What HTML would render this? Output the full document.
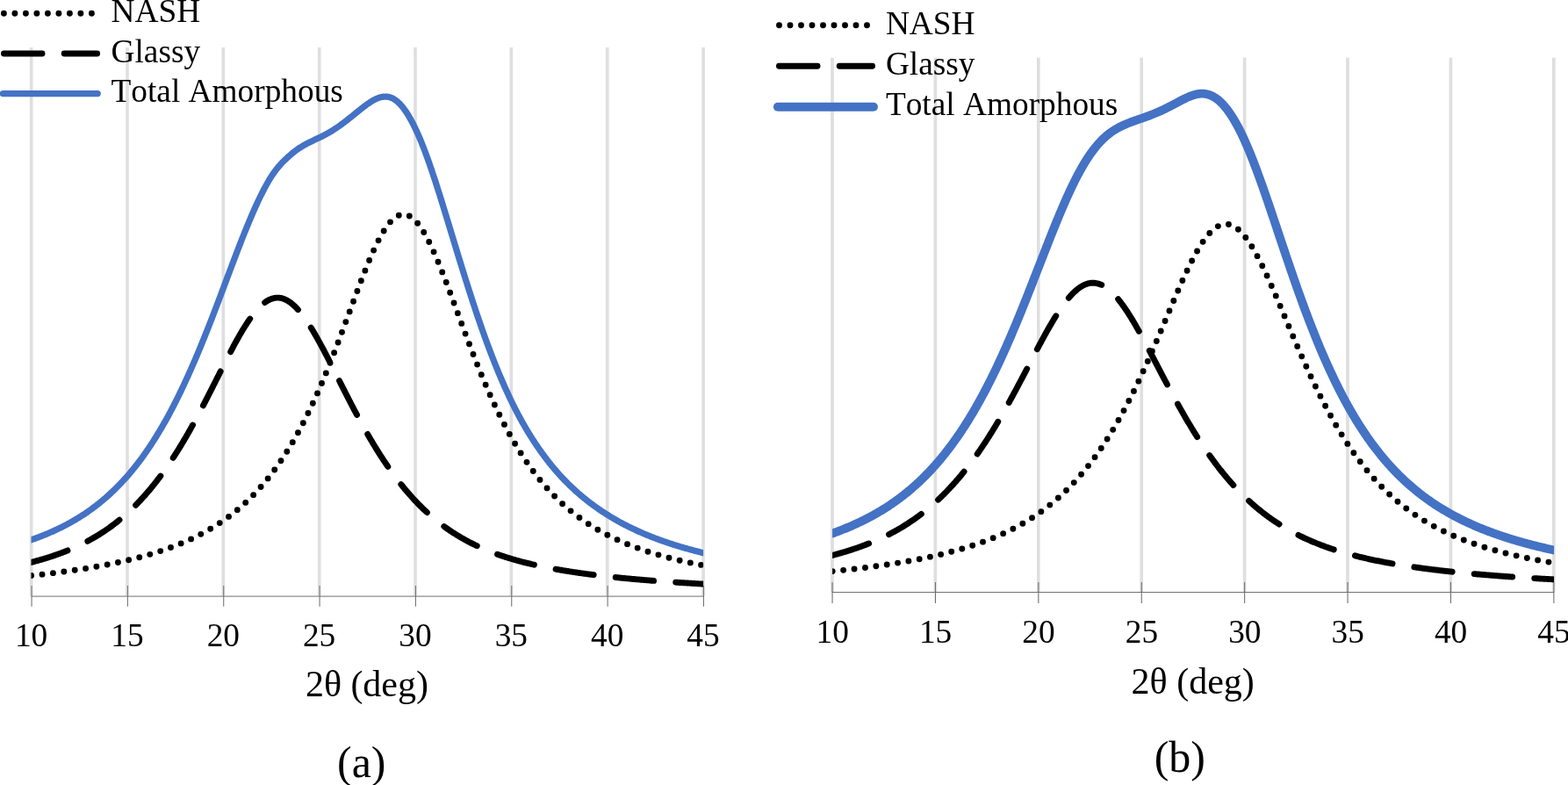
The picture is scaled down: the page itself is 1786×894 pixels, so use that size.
<!DOCTYPE html>
<html lang="en">
<head>
<meta charset="utf-8">
<title>XRD amorphous hump deconvolution</title>
<style>
html,body{margin:0;padding:0;background:#fff;}
body{width:1786px;height:894px;overflow:hidden;}
svg{display:block;}
text{font-family:"Liberation Serif",serif;fill:#000;font-kerning:none;font-variant-ligatures:none;}
.tk{font-size:37.33px;text-anchor:middle;}
.lg{font-size:37.33px;}
.ti{font-size:42px;}
.cp{font-size:50px;}
</style>
</head>
<body>
<svg width="1786" height="894" viewBox="0 0 1786 894">
<rect width="1786" height="894" fill="#fff"/>
<g id="chart-a">
<clipPath id="clip-a"><rect x="35.50" y="0" width="765.60" height="679.00"/></clipPath>
<path d="M35.65,54.00V678.50M144.99,54.00V678.50M254.34,54.00V678.50M363.68,54.00V678.50M473.02,54.00V678.50M582.36,54.00V678.50M691.71,54.00V678.50M801.05,54.00V678.50" stroke="#dfdfdf" stroke-width="3.7" fill="none"/>
<path d="M35.55,679.05H801.95" stroke="#8c8c8c" stroke-width="1.3" fill="none"/>
<path d="M36.05,667.00V690.70M145.39,667.00V690.70M254.74,667.00V690.70M364.08,667.00V690.70M473.42,667.00V690.70M582.76,667.00V690.70M692.11,667.00V690.70M801.45,667.00V690.70" stroke="#707070" stroke-width="1.05" fill="none"/>
<g clip-path="url(#clip-a)" fill="none" stroke-linecap="round" stroke-linejoin="round">
<path d="M35.60,655.48 L36.69,655.37 L37.79,655.25 L38.88,655.13 L39.97,655.02 L41.07,654.90 L42.16,654.78 L43.25,654.66 L44.35,654.54 L45.44,654.42 L46.53,654.30 L47.63,654.17 L48.72,654.05 L49.81,653.92 L50.91,653.80 L52.00,653.67 L53.09,653.54 L54.19,653.41 L55.28,653.28 L56.38,653.15 L57.47,653.02 L58.56,652.89 L59.66,652.75 L60.75,652.62 L61.84,652.48 L62.94,652.34 L64.03,652.21 L65.12,652.07 L66.22,651.93 L67.31,651.78 L68.40,651.64 L69.50,651.50 L70.59,651.35 L71.68,651.21 L72.78,651.06 L73.87,650.91 L74.96,650.76 L76.06,650.61 L77.15,650.46 L78.24,650.31 L79.34,650.16 L80.43,650.00 L81.52,649.85 L82.62,649.69 L83.71,649.53 L84.80,649.37 L85.90,649.21 L86.99,649.05 L88.08,648.88 L89.18,648.72 L90.27,648.55 L91.36,648.38 L92.46,648.21 L93.55,648.04 L94.65,647.87 L95.74,647.70 L96.83,647.52 L97.93,647.34 L99.02,647.17 L100.11,646.99 L101.21,646.81 L102.30,646.63 L103.39,646.44 L104.49,646.26 L105.58,646.07 L106.67,645.88 L107.77,645.69 L108.86,645.50 L109.95,645.31 L111.05,645.11 L112.14,644.91 L113.23,644.72 L114.33,644.52 L115.42,644.32 L116.51,644.11 L117.61,643.91 L118.70,643.70 L119.79,643.49 L120.89,643.28 L121.98,643.07 L123.07,642.85 L124.17,642.64 L125.26,642.42 L126.35,642.20 L127.45,641.98 L128.54,641.76 L129.63,641.53 L130.73,641.30 L131.82,641.07 L132.92,640.84 L134.01,640.61 L135.10,640.37 L136.20,640.13 L137.29,639.89 L138.38,639.65 L139.48,639.40 L140.57,639.16 L141.66,638.91 L142.76,638.66 L143.85,638.40 L144.94,638.15 L146.04,637.89 L147.13,637.63 L148.22,637.36 L149.32,637.10 L150.41,636.83 L151.50,636.56 L152.60,636.28 L153.69,636.01 L154.78,635.73 L155.88,635.45 L156.97,635.16 L158.06,634.88 L159.16,634.59 L160.25,634.29 L161.34,634.00 L162.44,633.70 L163.53,633.40 L164.62,633.09 L165.72,632.79 L166.81,632.48 L167.90,632.16 L169.00,631.85 L170.09,631.53 L171.19,631.20 L172.28,630.88 L173.37,630.55 L174.47,630.22 L175.56,629.88 L176.65,629.54 L177.75,629.20 L178.84,628.85 L179.93,628.50 L181.03,628.15 L182.12,627.79 L183.21,627.43 L184.31,627.07 L185.40,626.70 L186.49,626.33 L187.59,625.95 L188.68,625.57 L189.77,625.18 L190.87,624.80 L191.96,624.40 L193.05,624.01 L194.15,623.61 L195.24,623.20 L196.33,622.79 L197.43,622.38 L198.52,621.96 L199.61,621.54 L200.71,621.11 L201.80,620.68 L202.89,620.24 L203.99,619.80 L205.08,619.35 L206.17,618.90 L207.27,618.44 L208.36,617.98 L209.46,617.51 L210.55,617.04 L211.64,616.56 L212.74,616.08 L213.83,615.59 L214.92,615.10 L216.02,614.60 L217.11,614.10 L218.20,613.58 L219.30,613.07 L220.39,612.54 L221.48,612.02 L222.58,611.48 L223.67,610.94 L224.76,610.39 L225.86,609.84 L226.95,609.28 L228.04,608.71 L229.14,608.14 L230.23,607.56 L231.32,606.97 L232.42,606.38 L233.51,605.78 L234.60,605.17 L235.70,604.55 L236.79,603.93 L237.88,603.30 L238.98,602.66 L240.07,602.02 L241.16,601.37 L242.26,600.70 L243.35,600.04 L244.44,599.36 L245.54,598.67 L246.63,597.98 L247.73,597.28 L248.82,596.57 L249.91,595.85 L251.01,595.12 L252.10,594.38 L253.19,593.64 L254.29,592.88 L255.38,592.11 L256.47,591.34 L257.57,590.56 L258.66,589.76 L259.75,588.96 L260.85,588.15 L261.94,587.32 L263.03,586.49 L264.13,585.64 L265.22,584.79 L266.31,583.92 L267.41,583.05 L268.50,582.16 L269.59,581.26 L270.69,580.35 L271.78,579.43 L272.87,578.50 L273.97,577.55 L275.06,576.59 L276.15,575.62 L277.25,574.64 L278.34,573.65 L279.43,572.64 L280.53,571.62 L281.62,570.59 L282.71,569.55 L283.81,568.49 L284.90,567.42 L286.00,566.33 L287.09,565.23 L288.18,564.12 L289.28,562.99 L290.37,561.85 L291.46,560.69 L292.56,559.52 L293.65,558.34 L294.74,557.14 L295.84,555.92 L296.93,554.69 L298.02,553.44 L299.12,552.18 L300.21,550.90 L301.30,549.60 L302.40,548.29 L303.49,546.96 L304.58,545.62 L305.68,544.26 L306.77,542.88 L307.86,541.48 L308.96,540.07 L310.05,538.63 L311.14,537.18 L312.24,535.72 L313.33,534.23 L314.42,532.72 L315.52,531.20 L316.61,529.66 L317.70,528.10 L318.80,526.52 L319.89,524.91 L320.98,523.29 L322.08,521.65 L323.17,519.99 L324.27,518.31 L325.36,516.61 L326.45,514.89 L327.55,513.15 L328.64,511.38 L329.73,509.60 L330.83,507.79 L331.92,505.97 L333.01,504.12 L334.11,502.25 L335.20,500.35 L336.29,498.44 L337.39,496.50 L338.48,494.54 L339.57,492.56 L340.67,490.55 L341.76,488.53 L342.85,486.48 L343.95,484.40 L345.04,482.31 L346.13,480.19 L347.23,478.04 L348.32,475.88 L349.41,473.69 L350.51,471.48 L351.60,469.24 L352.69,466.98 L353.79,464.70 L354.88,462.39 L355.97,460.06 L357.07,457.71 L358.16,455.33 L359.25,452.93 L360.35,450.51 L361.44,448.06 L362.54,445.59 L363.63,443.10 L364.72,440.59 L365.82,438.05 L366.91,435.49 L368.00,432.91 L369.10,430.31 L370.19,427.69 L371.28,425.04 L372.38,422.38 L373.47,419.69 L374.56,416.99 L375.66,414.27 L376.75,411.52 L377.84,408.76 L378.94,405.98 L380.03,403.18 L381.12,400.37 L382.22,397.54 L383.31,394.70 L384.40,391.84 L385.50,388.97 L386.59,386.08 L387.68,383.18 L388.78,380.27 L389.87,377.35 L390.96,374.43 L392.06,371.49 L393.15,368.54 L394.24,365.60 L395.34,362.64 L396.43,359.68 L397.52,356.72 L398.62,353.76 L399.71,350.80 L400.81,347.84 L401.90,344.89 L402.99,341.94 L404.09,339.00 L405.18,336.06 L406.27,333.14 L407.37,330.22 L408.46,327.33 L409.55,324.44 L410.65,321.57 L411.74,318.73 L412.83,315.90 L413.93,313.10 L415.02,310.32 L416.11,307.57 L417.21,304.85 L418.30,302.16 L419.39,299.50 L420.49,296.88 L421.58,294.30 L422.67,291.75 L423.77,289.25 L424.86,286.80 L425.95,284.39 L427.05,282.03 L428.14,279.73 L429.23,277.47 L430.33,275.28 L431.42,273.14 L432.51,271.06 L433.61,269.05 L434.70,267.10 L435.79,265.21 L436.89,263.40 L437.98,261.66 L439.08,259.99 L440.17,258.39 L441.26,256.87 L442.36,255.43 L443.45,254.07 L444.54,252.80 L445.64,251.60 L446.73,250.49 L447.82,249.47 L448.92,248.54 L450.01,247.69 L451.10,246.93 L452.20,246.27 L453.29,245.69 L454.38,245.21 L455.48,244.82 L456.57,244.53 L457.66,244.33 L458.76,244.22 L459.85,244.21 L460.94,244.29 L462.04,244.46 L463.13,244.73 L464.22,245.10 L465.32,245.55 L466.41,246.10 L467.50,246.74 L468.60,247.47 L469.69,248.29 L470.78,249.20 L471.88,250.20 L472.97,251.28 L474.06,252.45 L475.16,253.71 L476.25,255.04 L477.35,256.46 L478.44,257.96 L479.53,259.53 L480.63,261.18 L481.72,262.90 L482.81,264.70 L483.91,266.56 L485.00,268.49 L486.09,270.49 L487.19,272.55 L488.28,274.67 L489.37,276.85 L490.47,279.09 L491.56,281.38 L492.65,283.73 L493.75,286.12 L494.84,288.56 L495.93,291.05 L497.03,293.58 L498.12,296.15 L499.21,298.76 L500.31,301.41 L501.40,304.09 L502.49,306.80 L503.59,309.55 L504.68,312.32 L505.77,315.11 L506.87,317.93 L507.96,320.78 L509.05,323.64 L510.15,326.52 L511.24,329.41 L512.33,332.32 L513.43,335.24 L514.52,338.17 L515.62,341.12 L516.71,344.06 L517.80,347.02 L518.90,349.97 L519.99,352.93 L521.08,355.89 L522.18,358.85 L523.27,361.81 L524.36,364.77 L525.46,367.72 L526.55,370.66 L527.64,373.60 L528.74,376.53 L529.83,379.46 L530.92,382.37 L532.02,385.27 L533.11,388.16 L534.20,391.04 L535.30,393.90 L536.39,396.75 L537.48,399.58 L538.58,402.40 L539.67,405.20 L540.76,407.98 L541.86,410.75 L542.95,413.50 L544.04,416.23 L545.14,418.94 L546.23,421.63 L547.32,424.30 L548.42,426.95 L549.51,429.58 L550.60,432.19 L551.70,434.77 L552.79,437.34 L553.89,439.88 L554.98,442.40 L556.07,444.90 L557.17,447.37 L558.26,449.83 L559.35,452.25 L560.45,454.66 L561.54,457.04 L562.63,459.40 L563.73,461.74 L564.82,464.05 L565.91,466.34 L567.01,468.61 L568.10,470.85 L569.19,473.07 L570.29,475.27 L571.38,477.44 L572.47,479.59 L573.57,481.72 L574.66,483.82 L575.75,485.90 L576.85,487.96 L577.94,489.99 L579.03,492.00 L580.13,493.99 L581.22,495.95 L582.31,497.90 L583.41,499.82 L584.50,501.72 L585.59,503.60 L586.69,505.45 L587.78,507.28 L588.87,509.10 L589.97,510.89 L591.06,512.66 L592.16,514.40 L593.25,516.13 L594.34,517.84 L595.44,519.53 L596.53,521.19 L597.62,522.84 L598.72,524.46 L599.81,526.07 L600.90,527.66 L602.00,529.22 L603.09,530.77 L604.18,532.30 L605.28,533.81 L606.37,535.30 L607.46,536.78 L608.56,538.23 L609.65,539.67 L610.74,541.09 L611.84,542.49 L612.93,543.87 L614.02,545.24 L615.12,546.59 L616.21,547.92 L617.30,549.24 L618.40,550.54 L619.49,551.82 L620.58,553.09 L621.68,554.34 L622.77,555.58 L623.86,556.80 L624.96,558.00 L626.05,559.19 L627.14,560.37 L628.24,561.53 L629.33,562.67 L630.43,563.80 L631.52,564.92 L632.61,566.03 L633.71,567.11 L634.80,568.19 L635.89,569.25 L636.99,570.30 L638.08,571.34 L639.17,572.36 L640.27,573.37 L641.36,574.37 L642.45,575.35 L643.55,576.32 L644.64,577.28 L645.73,578.23 L646.83,579.17 L647.92,580.09 L649.01,581.01 L650.11,581.91 L651.20,582.80 L652.29,583.68 L653.39,584.55 L654.48,585.41 L655.57,586.25 L656.67,587.09 L657.76,587.92 L658.85,588.73 L659.95,589.54 L661.04,590.34 L662.13,591.12 L663.23,591.90 L664.32,592.67 L665.41,593.42 L666.51,594.17 L667.60,594.91 L668.70,595.64 L669.79,596.37 L670.88,597.08 L671.98,597.78 L673.07,598.48 L674.16,599.17 L675.26,599.85 L676.35,600.52 L677.44,601.18 L678.54,601.84 L679.63,602.48 L680.72,603.12 L681.82,603.76 L682.91,604.38 L684.00,605.00 L685.10,605.61 L686.19,606.21 L687.28,606.81 L688.38,607.40 L689.47,607.98 L690.56,608.55 L691.66,609.12 L692.75,609.68 L693.84,610.24 L694.94,610.79 L696.03,611.33 L697.12,611.87 L698.22,612.40 L699.31,612.92 L700.40,613.44 L701.50,613.95 L702.59,614.46 L703.68,614.96 L704.78,615.46 L705.87,615.95 L706.97,616.43 L708.06,616.91 L709.15,617.38 L710.25,617.85 L711.34,618.31 L712.43,618.77 L713.53,619.23 L714.62,619.67 L715.71,620.12 L716.81,620.55 L717.90,620.99 L718.99,621.42 L720.09,621.84 L721.18,622.26 L722.27,622.68 L723.37,623.09 L724.46,623.49 L725.55,623.90 L726.65,624.29 L727.74,624.69 L728.83,625.08 L729.93,625.46 L731.02,625.84 L732.11,626.22 L733.21,626.59 L734.30,626.96 L735.39,627.33 L736.49,627.69 L737.58,628.05 L738.67,628.40 L739.77,628.75 L740.86,629.10 L741.95,629.45 L743.05,629.79 L744.14,630.12 L745.24,630.46 L746.33,630.79 L747.42,631.11 L748.52,631.44 L749.61,631.76 L750.70,632.08 L751.80,632.39 L752.89,632.70 L753.98,633.01 L755.08,633.31 L756.17,633.62 L757.26,633.91 L758.36,634.21 L759.45,634.50 L760.54,634.79 L761.64,635.08 L762.73,635.37 L763.82,635.65 L764.92,635.93 L766.01,636.21 L767.10,636.48 L768.20,636.75 L769.29,637.02 L770.38,637.29 L771.48,637.55 L772.57,637.81 L773.66,638.07 L774.76,638.33 L775.85,638.59 L776.94,638.84 L778.04,639.09 L779.13,639.34 L780.22,639.58 L781.32,639.82 L782.41,640.06 L783.51,640.30 L784.60,640.54 L785.69,640.77 L786.79,641.01 L787.88,641.24 L788.97,641.47 L790.07,641.69 L791.16,641.92 L792.25,642.14 L793.35,642.36 L794.44,642.58 L795.53,642.79 L796.63,643.01 L797.72,643.22 L798.81,643.43 L799.91,643.64 L801.00,643.85" stroke="#000" stroke-width="6.9" stroke-dasharray="0 12.5"/>
<path d="M35.60,640.39 L36.69,640.11 L37.79,639.82 L38.88,639.54 L39.97,639.24 L41.07,638.95 L42.16,638.65 L43.25,638.35 L44.35,638.04 L45.44,637.73 L46.53,637.42 L47.63,637.10 L48.72,636.78 L49.81,636.46 L50.91,636.13 L52.00,635.79 L53.09,635.46 L54.19,635.12 L55.28,634.77 L56.38,634.42 L57.47,634.07 L58.56,633.71 L59.66,633.35 L60.75,632.98 L61.84,632.61 L62.94,632.23 L64.03,631.85 L65.12,631.47 L66.22,631.08 L67.31,630.68 L68.40,630.28 L69.50,629.88 L70.59,629.47 L71.68,629.05 L72.78,628.63 L73.87,628.20 L74.96,627.77 L76.06,627.34 L77.15,626.89 L78.24,626.44 L79.34,625.99 L80.43,625.53 L81.52,625.06 L82.62,624.59 L83.71,624.11 L84.80,623.63 L85.90,623.14 L86.99,622.64 L88.08,622.14 L89.18,621.62 L90.27,621.11 L91.36,620.58 L92.46,620.05 L93.55,619.52 L94.65,618.97 L95.74,618.42 L96.83,617.86 L97.93,617.29 L99.02,616.72 L100.11,616.14 L101.21,615.55 L102.30,614.95 L103.39,614.35 L104.49,613.74 L105.58,613.12 L106.67,612.49 L107.77,611.85 L108.86,611.20 L109.95,610.55 L111.05,609.89 L112.14,609.22 L113.23,608.54 L114.33,607.85 L115.42,607.15 L116.51,606.44 L117.61,605.73 L118.70,605.00 L119.79,604.27 L120.89,603.52 L121.98,602.77 L123.07,602.00 L124.17,601.23 L125.26,600.45 L126.35,599.65 L127.45,598.85 L128.54,598.03 L129.63,597.21 L130.73,596.37 L131.82,595.53 L132.92,594.67 L134.01,593.80 L135.10,592.92 L136.20,592.03 L137.29,591.13 L138.38,590.21 L139.48,589.29 L140.57,588.35 L141.66,587.41 L142.76,586.45 L143.85,585.47 L144.94,584.49 L146.04,583.49 L147.13,582.48 L148.22,581.46 L149.32,580.43 L150.41,579.38 L151.50,578.32 L152.60,577.25 L153.69,576.17 L154.78,575.07 L155.88,573.96 L156.97,572.83 L158.06,571.69 L159.16,570.54 L160.25,569.38 L161.34,568.20 L162.44,567.00 L163.53,565.80 L164.62,564.58 L165.72,563.34 L166.81,562.09 L167.90,560.83 L169.00,559.55 L170.09,558.26 L171.19,556.95 L172.28,555.63 L173.37,554.29 L174.47,552.94 L175.56,551.58 L176.65,550.20 L177.75,548.80 L178.84,547.39 L179.93,545.96 L181.03,544.52 L182.12,543.07 L183.21,541.59 L184.31,540.11 L185.40,538.60 L186.49,537.09 L187.59,535.55 L188.68,534.00 L189.77,532.44 L190.87,530.86 L191.96,529.26 L193.05,527.65 L194.15,526.02 L195.24,524.38 L196.33,522.72 L197.43,521.05 L198.52,519.36 L199.61,517.66 L200.71,515.94 L201.80,514.20 L202.89,512.45 L203.99,510.69 L205.08,508.91 L206.17,507.11 L207.27,505.30 L208.36,503.48 L209.46,501.63 L210.55,499.78 L211.64,497.91 L212.74,496.03 L213.83,494.13 L214.92,492.22 L216.02,490.29 L217.11,488.35 L218.20,486.40 L219.30,484.43 L220.39,482.45 L221.48,480.46 L222.58,478.46 L223.67,476.44 L224.76,474.42 L225.86,472.38 L226.95,470.33 L228.04,468.27 L229.14,466.19 L230.23,464.11 L231.32,462.02 L232.42,459.92 L233.51,457.81 L234.60,455.70 L235.70,453.57 L236.79,451.44 L237.88,449.30 L238.98,447.16 L240.07,445.01 L241.16,442.85 L242.26,440.69 L243.35,438.53 L244.44,436.36 L245.54,434.20 L246.63,432.03 L247.73,429.86 L248.82,427.69 L249.91,425.52 L251.01,423.35 L252.10,421.19 L253.19,419.03 L254.29,416.87 L255.38,414.72 L256.47,412.58 L257.57,410.44 L258.66,408.31 L259.75,406.19 L260.85,404.09 L261.94,401.99 L263.03,399.91 L264.13,397.84 L265.22,395.78 L266.31,393.74 L267.41,391.72 L268.50,389.72 L269.59,387.74 L270.69,385.78 L271.78,383.84 L272.87,381.92 L273.97,380.03 L275.06,378.17 L276.15,376.34 L277.25,374.53 L278.34,372.75 L279.43,371.01 L280.53,369.30 L281.62,367.62 L282.71,365.98 L283.81,364.37 L284.90,362.81 L286.00,361.28 L287.09,359.79 L288.18,358.35 L289.28,356.95 L290.37,355.59 L291.46,354.29 L292.56,353.02 L293.65,351.81 L294.74,350.64 L295.84,349.53 L296.93,348.47 L298.02,347.46 L299.12,346.50 L300.21,345.60 L301.30,344.75 L302.40,343.96 L303.49,343.23 L304.58,342.56 L305.68,341.94 L306.77,341.38 L307.86,340.89 L308.96,340.45 L310.05,340.07 L311.14,339.76 L312.24,339.50 L313.33,339.31 L314.42,339.18 L315.52,339.11 L316.61,339.10 L317.70,339.16 L318.80,339.28 L319.89,339.46 L320.98,339.70 L322.08,340.00 L323.17,340.37 L324.27,340.79 L325.36,341.28 L326.45,341.82 L327.55,342.43 L328.64,343.09 L329.73,343.81 L330.83,344.59 L331.92,345.43 L333.01,346.32 L334.11,347.26 L335.20,348.26 L336.29,349.31 L337.39,350.42 L338.48,351.57 L339.57,352.78 L340.67,354.03 L341.76,355.33 L342.85,356.68 L343.95,358.07 L345.04,359.50 L346.13,360.98 L347.23,362.50 L348.32,364.06 L349.41,365.65 L350.51,367.29 L351.60,368.96 L352.69,370.66 L353.79,372.40 L354.88,374.17 L355.97,375.97 L357.07,377.80 L358.16,379.66 L359.25,381.54 L360.35,383.45 L361.44,385.39 L362.54,387.34 L363.63,389.32 L364.72,391.32 L365.82,393.34 L366.91,395.37 L368.00,397.42 L369.10,399.49 L370.19,401.57 L371.28,403.67 L372.38,405.77 L373.47,407.89 L374.56,410.02 L375.66,412.15 L376.75,414.29 L377.84,416.44 L378.94,418.60 L380.03,420.76 L381.12,422.92 L382.22,425.09 L383.31,427.25 L384.40,429.42 L385.50,431.59 L386.59,433.76 L387.68,435.93 L388.78,438.10 L389.87,440.26 L390.96,442.42 L392.06,444.58 L393.15,446.73 L394.24,448.87 L395.34,451.01 L396.43,453.14 L397.52,455.27 L398.62,457.39 L399.71,459.50 L400.81,461.60 L401.90,463.69 L402.99,465.78 L404.09,467.85 L405.18,469.91 L406.27,471.97 L407.37,474.01 L408.46,476.04 L409.55,478.06 L410.65,480.06 L411.74,482.06 L412.83,484.04 L413.93,486.01 L415.02,487.96 L416.11,489.90 L417.21,491.83 L418.30,493.75 L419.39,495.65 L420.49,497.53 L421.58,499.41 L422.67,501.26 L423.77,503.11 L424.86,504.94 L425.95,506.75 L427.05,508.55 L428.14,510.33 L429.23,512.10 L430.33,513.85 L431.42,515.59 L432.51,517.32 L433.61,519.02 L434.70,520.71 L435.79,522.39 L436.89,524.05 L437.98,525.70 L439.08,527.33 L440.17,528.94 L441.26,530.54 L442.36,532.12 L443.45,533.69 L444.54,535.24 L445.64,536.78 L446.73,538.30 L447.82,539.81 L448.92,541.30 L450.01,542.77 L451.10,544.23 L452.20,545.68 L453.29,547.11 L454.38,548.52 L455.48,549.92 L456.57,551.30 L457.66,552.67 L458.76,554.03 L459.85,555.36 L460.94,556.69 L462.04,558.00 L463.13,559.29 L464.22,560.58 L465.32,561.84 L466.41,563.09 L467.50,564.33 L468.60,565.55 L469.69,566.76 L470.78,567.96 L471.88,569.14 L472.97,570.31 L474.06,571.46 L475.16,572.61 L476.25,573.73 L477.35,574.85 L478.44,575.95 L479.53,577.04 L480.63,578.11 L481.72,579.17 L482.81,580.22 L483.91,581.26 L485.00,582.28 L486.09,583.29 L487.19,584.29 L488.28,585.28 L489.37,586.25 L490.47,587.21 L491.56,588.16 L492.65,589.10 L493.75,590.03 L494.84,590.95 L495.93,591.85 L497.03,592.74 L498.12,593.62 L499.21,594.50 L500.31,595.36 L501.40,596.20 L502.49,597.04 L503.59,597.87 L504.68,598.69 L505.77,599.49 L506.87,600.29 L507.96,601.07 L509.05,601.85 L510.15,602.62 L511.24,603.37 L512.33,604.12 L513.43,604.86 L514.52,605.58 L515.62,606.30 L516.71,607.01 L517.80,607.71 L518.90,608.40 L519.99,609.08 L521.08,609.75 L522.18,610.42 L523.27,611.07 L524.36,611.72 L525.46,612.36 L526.55,612.99 L527.64,613.61 L528.74,614.23 L529.83,614.83 L530.92,615.43 L532.02,616.02 L533.11,616.60 L534.20,617.18 L535.30,617.75 L536.39,618.31 L537.48,618.86 L538.58,619.41 L539.67,619.95 L540.76,620.48 L541.86,621.00 L542.95,621.52 L544.04,622.03 L545.14,622.54 L546.23,623.04 L547.32,623.53 L548.42,624.02 L549.51,624.50 L550.60,624.97 L551.70,625.44 L552.79,625.90 L553.89,626.35 L554.98,626.80 L556.07,627.25 L557.17,627.69 L558.26,628.12 L559.35,628.55 L560.45,628.97 L561.54,629.38 L562.63,629.80 L563.73,630.20 L564.82,630.60 L565.91,631.00 L567.01,631.39 L568.10,631.78 L569.19,632.16 L570.29,632.54 L571.38,632.91 L572.47,633.28 L573.57,633.64 L574.66,634.00 L575.75,634.35 L576.85,634.70 L577.94,635.05 L579.03,635.39 L580.13,635.73 L581.22,636.06 L582.31,636.39 L583.41,636.72 L584.50,637.04 L585.59,637.36 L586.69,637.67 L587.78,637.98 L588.87,638.29 L589.97,638.59 L591.06,638.89 L592.16,639.19 L593.25,639.48 L594.34,639.77 L595.44,640.05 L596.53,640.34 L597.62,640.62 L598.72,640.89 L599.81,641.17 L600.90,641.44 L602.00,641.70 L603.09,641.97 L604.18,642.23 L605.28,642.49 L606.37,642.74 L607.46,642.99 L608.56,643.24 L609.65,643.49 L610.74,643.73 L611.84,643.98 L612.93,644.22 L614.02,644.45 L615.12,644.69 L616.21,644.92 L617.30,645.15 L618.40,645.37 L619.49,645.60 L620.58,645.82 L621.68,646.04 L622.77,646.26 L623.86,646.47 L624.96,646.68 L626.05,646.90 L627.14,647.10 L628.24,647.31 L629.33,647.51 L630.43,647.72 L631.52,647.92 L632.61,648.12 L633.71,648.31 L634.80,648.51 L635.89,648.70 L636.99,648.89 L638.08,649.08 L639.17,649.26 L640.27,649.45 L641.36,649.63 L642.45,649.81 L643.55,649.99 L644.64,650.17 L645.73,650.35 L646.83,650.52 L647.92,650.70 L649.01,650.87 L650.11,651.04 L651.20,651.20 L652.29,651.37 L653.39,651.54 L654.48,651.70 L655.57,651.86 L656.67,652.02 L657.76,652.18 L658.85,652.34 L659.95,652.50 L661.04,652.65 L662.13,652.80 L663.23,652.96 L664.32,653.11 L665.41,653.26 L666.51,653.40 L667.60,653.55 L668.70,653.70 L669.79,653.84 L670.88,653.98 L671.98,654.13 L673.07,654.27 L674.16,654.41 L675.26,654.54 L676.35,654.68 L677.44,654.82 L678.54,654.95 L679.63,655.09 L680.72,655.22 L681.82,655.35 L682.91,655.48 L684.00,655.61 L685.10,655.74 L686.19,655.86 L687.28,655.99 L688.38,656.11 L689.47,656.24 L690.56,656.36 L691.66,656.48 L692.75,656.60 L693.84,656.72 L694.94,656.84 L696.03,656.96 L697.12,657.08 L698.22,657.20 L699.31,657.31 L700.40,657.42 L701.50,657.54 L702.59,657.65 L703.68,657.76 L704.78,657.87 L705.87,657.98 L706.97,658.09 L708.06,658.20 L709.15,658.31 L710.25,658.42 L711.34,658.52 L712.43,658.63 L713.53,658.73 L714.62,658.83 L715.71,658.94 L716.81,659.04 L717.90,659.14 L718.99,659.24 L720.09,659.34 L721.18,659.44 L722.27,659.54 L723.37,659.63 L724.46,659.73 L725.55,659.83 L726.65,659.92 L727.74,660.02 L728.83,660.11 L729.93,660.20 L731.02,660.30 L732.11,660.39 L733.21,660.48 L734.30,660.57 L735.39,660.66 L736.49,660.75 L737.58,660.84 L738.67,660.92 L739.77,661.01 L740.86,661.10 L741.95,661.19 L743.05,661.27 L744.14,661.36 L745.24,661.44 L746.33,661.52 L747.42,661.61 L748.52,661.69 L749.61,661.77 L750.70,661.85 L751.80,661.93 L752.89,662.01 L753.98,662.09 L755.08,662.17 L756.17,662.25 L757.26,662.33 L758.36,662.41 L759.45,662.48 L760.54,662.56 L761.64,662.64 L762.73,662.71 L763.82,662.79 L764.92,662.86 L766.01,662.93 L767.10,663.01 L768.20,663.08 L769.29,663.15 L770.38,663.22 L771.48,663.30 L772.57,663.37 L773.66,663.44 L774.76,663.51 L775.85,663.58 L776.94,663.65 L778.04,663.72 L779.13,663.78 L780.22,663.85 L781.32,663.92 L782.41,663.99 L783.51,664.05 L784.60,664.12 L785.69,664.18 L786.79,664.25 L787.88,664.31 L788.97,664.38 L790.07,664.44 L791.16,664.50 L792.25,664.57 L793.35,664.63 L794.44,664.69 L795.53,664.75 L796.63,664.82 L797.72,664.88 L798.81,664.94 L799.91,665.00 L801.00,665.06" stroke="#000" stroke-width="6.9" stroke-dasharray="43.58 25.17"/>
<path d="M35.60,614.80 L36.69,614.42 L37.79,614.04 L38.88,613.65 L39.97,613.26 L41.07,612.86 L42.16,612.46 L43.25,612.05 L44.35,611.64 L45.44,611.22 L46.53,610.80 L47.63,610.37 L48.72,609.94 L49.81,609.50 L50.91,609.06 L52.00,608.62 L53.09,608.16 L54.19,607.71 L55.28,607.24 L56.38,606.78 L57.47,606.30 L58.56,605.82 L59.66,605.34 L60.75,604.85 L61.84,604.35 L62.94,603.85 L64.03,603.34 L65.12,602.83 L66.22,602.31 L67.31,601.78 L68.40,601.25 L69.50,600.71 L70.59,600.17 L71.68,599.62 L72.78,599.06 L73.87,598.49 L74.96,597.92 L76.06,597.34 L77.15,596.76 L78.24,596.17 L79.34,595.57 L80.43,594.96 L81.52,594.34 L82.62,593.72 L83.71,593.09 L84.80,592.46 L85.90,591.81 L86.99,591.16 L88.08,590.50 L89.18,589.83 L90.27,589.15 L91.36,588.47 L92.46,587.77 L93.55,587.07 L94.65,586.36 L95.74,585.64 L96.83,584.91 L97.93,584.18 L99.02,583.43 L100.11,582.68 L101.21,581.91 L102.30,581.14 L103.39,580.35 L104.49,579.56 L105.58,578.76 L106.67,577.95 L107.77,577.12 L108.86,576.29 L109.95,575.45 L111.05,574.60 L112.14,573.73 L113.23,572.86 L114.33,571.97 L115.42,571.08 L116.51,570.17 L117.61,569.25 L118.70,568.33 L119.79,567.39 L120.89,566.43 L121.98,565.47 L123.07,564.49 L124.17,563.51 L125.26,562.51 L126.35,561.50 L127.45,560.47 L128.54,559.44 L129.63,558.39 L130.73,557.33 L131.82,556.25 L132.92,555.17 L134.01,554.07 L135.10,552.95 L136.20,551.83 L137.29,550.68 L138.38,549.53 L139.48,548.36 L140.57,547.18 L141.66,545.98 L142.76,544.77 L143.85,543.55 L144.94,542.31 L146.04,541.06 L147.13,539.79 L148.22,538.50 L149.32,537.20 L150.41,535.88 L151.50,534.55 L152.60,533.20 L153.69,531.84 L154.78,530.46 L155.88,529.06 L156.97,527.64 L158.06,526.21 L159.16,524.77 L160.25,523.30 L161.34,521.82 L162.44,520.32 L163.53,518.80 L164.62,517.27 L165.72,515.72 L166.81,514.15 L167.90,512.56 L169.00,510.96 L170.09,509.33 L171.19,507.69 L172.28,506.03 L173.37,504.36 L174.47,502.66 L175.56,500.95 L176.65,499.21 L177.75,497.46 L178.84,495.69 L179.93,493.90 L181.03,492.09 L182.12,490.26 L183.21,488.42 L184.31,486.55 L185.40,484.67 L186.49,482.76 L187.59,480.84 L188.68,478.89 L189.77,476.93 L190.87,474.94 L191.96,472.94 L193.05,470.92 L194.15,468.87 L195.24,466.81 L196.33,464.73 L197.43,462.63 L198.52,460.50 L199.61,458.36 L200.71,456.20 L201.80,454.01 L202.89,451.81 L203.99,449.59 L205.08,447.35 L206.17,445.08 L207.27,442.80 L208.36,440.50 L209.46,438.18 L210.55,435.83 L211.64,433.47 L212.74,431.09 L213.83,428.69 L214.92,426.27 L216.02,423.83 L217.11,421.37 L218.20,418.90 L219.30,416.40 L220.39,413.89 L221.48,411.36 L222.58,408.80 L223.67,406.24 L224.76,403.65 L225.86,401.04 L226.95,398.42 L228.04,395.79 L229.14,393.13 L230.23,390.46 L231.32,387.77 L232.42,385.07 L233.51,382.35 L234.60,379.62 L235.70,376.87 L236.79,374.11 L237.88,371.33 L238.98,368.54 L240.07,365.74 L241.16,362.93 L242.26,360.11 L243.35,357.27 L244.44,354.42 L245.54,351.57 L246.63,348.70 L247.73,345.83 L248.82,342.95 L249.91,340.06 L251.01,337.16 L252.10,334.26 L253.19,331.36 L254.29,328.45 L255.38,325.54 L256.47,322.62 L257.57,319.71 L258.66,316.80 L259.75,313.88 L260.85,310.97 L261.94,308.07 L263.03,305.16 L264.13,302.27 L265.22,299.37 L266.31,296.49 L267.41,293.61 L268.50,290.74 L269.59,287.89 L270.69,285.04 L271.78,282.21 L272.87,279.39 L273.97,276.58 L275.06,273.79 L276.15,271.02 L277.25,268.26 L278.34,265.52 L279.43,262.81 L280.53,260.11 L281.62,257.44 L282.71,254.79 L283.81,252.17 L284.90,249.57 L286.00,247.00 L287.09,244.46 L288.18,241.94 L289.28,239.46 L290.37,237.01 L291.46,234.59 L292.56,232.20 L293.65,229.85 L294.74,227.53 L295.84,225.25 L296.93,223.01 L298.02,220.80 L299.12,218.63 L300.21,216.50 L301.30,214.41 L302.40,212.36 L303.49,210.36 L304.58,208.39 L305.68,206.48 L306.77,204.63 L307.86,202.85 L308.96,201.13 L310.05,199.46 L311.14,197.86 L312.24,196.31 L313.33,194.81 L314.42,193.37 L315.52,191.97 L316.61,190.63 L317.70,189.33 L318.80,188.07 L319.89,186.85 L320.98,185.67 L322.08,184.53 L323.17,183.43 L324.27,182.35 L325.36,181.30 L326.45,180.28 L327.55,179.28 L328.64,178.31 L329.73,177.35 L330.83,176.40 L331.92,175.47 L333.01,174.54 L334.11,173.64 L335.20,172.76 L336.29,171.92 L337.39,171.10 L338.48,170.32 L339.57,169.56 L340.67,168.82 L341.76,168.11 L342.85,167.42 L343.95,166.75 L345.04,166.10 L346.13,165.47 L347.23,164.85 L348.32,164.26 L349.41,163.67 L350.51,163.10 L351.60,162.54 L352.69,161.99 L353.79,161.45 L354.88,160.92 L355.97,160.40 L357.07,159.87 L358.16,159.36 L359.25,158.84 L360.35,158.33 L361.44,157.82 L362.54,157.30 L363.63,156.79 L364.72,156.26 L365.82,155.73 L366.91,155.19 L368.00,154.64 L369.10,154.08 L370.19,153.51 L371.28,152.92 L372.38,152.33 L373.47,151.72 L374.56,151.10 L375.66,150.46 L376.75,149.81 L377.84,149.15 L378.94,148.48 L380.03,147.79 L381.12,147.08 L382.22,146.36 L383.31,145.63 L384.40,144.89 L385.50,144.13 L386.59,143.36 L387.68,142.58 L388.78,141.78 L389.87,140.97 L390.96,140.16 L392.06,139.33 L393.15,138.49 L394.24,137.64 L395.34,136.79 L396.43,135.93 L397.52,135.06 L398.62,134.19 L399.71,133.32 L400.81,132.44 L401.90,131.56 L402.99,130.68 L404.09,129.79 L405.18,128.91 L406.27,128.02 L407.37,127.13 L408.46,126.25 L409.55,125.37 L410.65,124.49 L411.74,123.62 L412.83,122.76 L413.93,121.92 L415.02,121.08 L416.11,120.26 L417.21,119.46 L418.30,118.67 L419.39,117.90 L420.49,117.16 L421.58,116.44 L422.67,115.75 L423.77,115.09 L424.86,114.46 L425.95,113.86 L427.05,113.29 L428.14,112.77 L429.23,112.28 L430.33,111.84 L431.42,111.44 L432.51,111.08 L433.61,110.78 L434.70,110.52 L435.79,110.32 L436.89,110.17 L437.98,110.08 L439.08,110.05 L440.17,110.08 L441.26,110.18 L442.36,110.36 L443.45,110.61 L444.54,110.93 L445.64,111.33 L446.73,111.80 L447.82,112.36 L448.92,112.98 L450.01,113.69 L451.10,114.47 L452.20,115.33 L453.29,116.27 L454.38,117.29 L455.48,118.39 L456.57,119.56 L457.66,120.81 L458.76,122.14 L459.85,123.55 L460.94,125.03 L462.04,126.59 L463.13,128.22 L464.22,129.92 L465.32,131.70 L466.41,133.55 L467.50,135.47 L468.60,137.46 L469.69,139.52 L470.78,141.64 L471.88,143.82 L472.97,146.07 L474.06,148.38 L475.16,150.75 L476.25,153.20 L477.35,155.71 L478.44,158.28 L479.53,160.92 L480.63,163.62 L481.72,166.37 L482.81,169.18 L483.91,172.05 L485.00,174.98 L486.09,177.95 L487.19,180.97 L488.28,184.05 L489.37,187.16 L490.47,190.33 L491.56,193.53 L492.65,196.78 L493.75,200.06 L494.84,203.38 L495.93,206.73 L497.03,210.12 L498.12,213.53 L499.21,216.97 L500.31,220.43 L501.40,223.92 L502.49,227.42 L503.59,230.94 L504.68,234.47 L505.77,238.02 L506.87,241.58 L507.96,245.15 L509.05,248.73 L510.15,252.32 L511.24,255.91 L512.33,259.51 L513.43,263.11 L514.52,266.71 L515.62,270.30 L516.71,273.90 L517.80,277.50 L518.90,281.09 L519.99,284.67 L521.08,288.25 L522.18,291.82 L523.27,295.38 L524.36,298.93 L525.46,302.47 L526.55,306.00 L527.64,309.52 L528.74,313.02 L529.83,316.51 L530.92,319.99 L532.02,323.44 L533.11,326.89 L534.20,330.31 L535.30,333.72 L536.39,337.11 L537.48,340.48 L538.58,343.84 L539.67,347.17 L540.76,350.48 L541.86,353.77 L542.95,357.03 L544.04,360.27 L545.14,363.48 L546.23,366.67 L547.32,369.83 L548.42,372.97 L549.51,376.08 L550.60,379.17 L551.70,382.23 L552.79,385.26 L553.89,388.26 L554.98,391.24 L556.07,394.19 L557.17,397.11 L558.26,400.00 L559.35,402.87 L560.45,405.70 L561.54,408.51 L562.63,411.29 L563.73,414.05 L564.82,416.77 L565.91,419.46 L567.01,422.13 L568.10,424.77 L569.19,427.38 L570.29,429.96 L571.38,432.51 L572.47,435.04 L573.57,437.54 L574.66,440.01 L575.75,442.45 L576.85,444.86 L577.94,447.24 L579.03,449.60 L580.13,451.93 L581.22,454.23 L582.31,456.51 L583.41,458.76 L584.50,460.97 L585.59,463.16 L586.69,465.33 L587.78,467.46 L588.87,469.57 L589.97,471.65 L591.06,473.70 L592.16,475.73 L593.25,477.73 L594.34,479.71 L595.44,481.66 L596.53,483.58 L597.62,485.49 L598.72,487.36 L599.81,489.22 L600.90,491.05 L602.00,492.85 L603.09,494.64 L604.18,496.40 L605.28,498.14 L606.37,499.85 L607.46,501.55 L608.56,503.22 L609.65,504.88 L610.74,506.51 L611.84,508.12 L612.93,509.72 L614.02,511.29 L615.12,512.85 L616.21,514.38 L617.30,515.90 L618.40,517.40 L619.49,518.89 L620.58,520.35 L621.68,521.80 L622.77,523.23 L623.86,524.65 L624.96,526.05 L626.05,527.43 L627.14,528.80 L628.24,530.15 L629.33,531.48 L630.43,532.80 L631.52,534.10 L632.61,535.38 L633.71,536.65 L634.80,537.90 L635.89,539.13 L636.99,540.36 L638.08,541.56 L639.17,542.75 L640.27,543.93 L641.36,545.09 L642.45,546.24 L643.55,547.37 L644.64,548.49 L645.73,549.60 L646.83,550.69 L647.92,551.77 L649.01,552.84 L650.11,553.89 L651.20,554.93 L652.29,555.96 L653.39,556.98 L654.48,557.98 L655.57,558.97 L656.67,559.95 L657.76,560.92 L658.85,561.88 L659.95,562.83 L661.04,563.76 L662.13,564.69 L663.23,565.60 L664.32,566.50 L665.41,567.40 L666.51,568.28 L667.60,569.15 L668.70,570.02 L669.79,570.87 L670.88,571.72 L671.98,572.55 L673.07,573.38 L674.16,574.20 L675.26,575.00 L676.35,575.80 L677.44,576.59 L678.54,577.38 L679.63,578.15 L680.72,578.92 L681.82,579.68 L682.91,580.43 L684.00,581.17 L685.10,581.91 L686.19,582.63 L687.28,583.36 L688.38,584.07 L689.47,584.78 L690.56,585.48 L691.66,586.17 L692.75,586.86 L693.84,587.53 L694.94,588.20 L696.03,588.87 L697.12,589.53 L698.22,590.18 L699.31,590.82 L700.40,591.45 L701.50,592.08 L702.59,592.70 L703.68,593.32 L704.78,593.93 L705.87,594.53 L706.97,595.13 L708.06,595.72 L709.15,596.30 L710.25,596.88 L711.34,597.45 L712.43,598.02 L713.53,598.58 L714.62,599.13 L715.71,599.68 L716.81,600.22 L717.90,600.76 L718.99,601.29 L720.09,601.82 L721.18,602.34 L722.27,602.85 L723.37,603.37 L724.46,603.87 L725.55,604.37 L726.65,604.87 L727.74,605.36 L728.83,605.84 L729.93,606.32 L731.02,606.80 L732.11,607.27 L733.21,607.74 L734.30,608.20 L735.39,608.66 L736.49,609.11 L737.58,609.56 L738.67,610.00 L739.77,610.45 L740.86,610.88 L741.95,611.31 L743.05,611.74 L744.14,612.17 L745.24,612.58 L746.33,613.00 L747.42,613.41 L748.52,613.82 L749.61,614.23 L750.70,614.63 L751.80,615.02 L752.89,615.42 L753.98,615.81 L755.08,616.19 L756.17,616.57 L757.26,616.95 L758.36,617.33 L759.45,617.70 L760.54,618.07 L761.64,618.43 L762.73,618.80 L763.82,619.16 L764.92,619.51 L766.01,619.86 L767.10,620.21 L768.20,620.56 L769.29,620.90 L770.38,621.24 L771.48,621.58 L772.57,621.92 L773.66,622.25 L774.76,622.58 L775.85,622.90 L776.94,623.22 L778.04,623.54 L779.13,623.86 L780.22,624.18 L781.32,624.49 L782.41,624.80 L783.51,625.10 L784.60,625.41 L785.69,625.71 L786.79,626.01 L787.88,626.31 L788.97,626.60 L790.07,626.89 L791.16,627.18 L792.25,627.47 L793.35,627.75 L794.44,628.03 L795.53,628.31 L796.63,628.59 L797.72,628.87 L798.81,629.14 L799.91,629.41 L801.00,629.68" stroke="#4472c4" stroke-width="7.2"/>
</g>
<g fill="none" stroke-linecap="round">
<path d="M4.40,15.30H111.00" stroke="#000" stroke-width="6.9" stroke-dasharray="0 12.5"/>
<path d="M4.45,61.00H110.65" stroke="#000" stroke-width="6.9" stroke-dasharray="43.58 25.17"/>
<path d="M3.30,106.60H111.20" stroke="#4472c4" stroke-width="7.3"/>
</g>
<text class="lg" x="126.50" y="25.00">NASH</text>
<text class="lg" x="126.50" y="70.50">Glassy</text>
<text class="lg" x="126.50" y="116.40">Total Amorphous</text>
<text class="tk" x="35.60" y="736.40">10</text>
<text class="tk" x="144.94" y="736.40">15</text>
<text class="tk" x="254.29" y="736.40">20</text>
<text class="tk" x="363.63" y="736.40">25</text>
<text class="tk" x="472.97" y="736.40">30</text>
<text class="tk" x="582.31" y="736.40">35</text>
<text class="tk" x="691.66" y="736.40">40</text>
<text class="tk" x="801.00" y="736.40">45</text>
<text class="ti" x="348.00" y="793.20">2θ <tspan x="488.00" text-anchor="end">(deg)</tspan></text>
<text class="cp" x="384.00" y="884.50">(a)</text>
</g>
<g id="chart-b">
<clipPath id="clip-b"><rect x="948.10" y="0" width="822.00" height="674.40"/></clipPath>
<path d="M948.00,65.70V673.90M1065.40,65.70V673.90M1182.80,65.70V673.90M1300.20,65.70V673.90M1417.60,65.70V673.90M1535.00,65.70V673.90M1652.40,65.70V673.90M1769.80,65.70V673.90" stroke="#dfdfdf" stroke-width="3.7" fill="none"/>
<path d="M947.55,674.50H1770.35" stroke="#707070" stroke-width="1.05" fill="none"/>
<path d="M948.05,663.00V687.00M1065.45,663.00V687.00M1182.85,663.00V687.00M1300.25,663.00V687.00M1417.65,663.00V687.00M1535.05,663.00V687.00M1652.45,663.00V687.00M1769.85,663.00V687.00" stroke="#6a6a6a" stroke-width="1.05" fill="none"/>
<g clip-path="url(#clip-b)" fill="none" stroke-linecap="round" stroke-linejoin="round">
<path d="M948.20,650.62 L949.37,650.51 L950.55,650.39 L951.72,650.27 L952.90,650.15 L954.07,650.03 L955.24,649.91 L956.42,649.78 L957.59,649.66 L958.77,649.54 L959.94,649.41 L961.11,649.28 L962.29,649.16 L963.46,649.03 L964.64,648.90 L965.81,648.77 L966.98,648.64 L968.16,648.51 L969.33,648.37 L970.51,648.24 L971.68,648.10 L972.85,647.97 L974.03,647.83 L975.20,647.69 L976.38,647.55 L977.55,647.41 L978.72,647.27 L979.90,647.13 L981.07,646.99 L982.25,646.84 L983.42,646.69 L984.59,646.55 L985.77,646.40 L986.94,646.25 L988.12,646.10 L989.29,645.95 L990.46,645.80 L991.64,645.64 L992.81,645.49 L993.99,645.33 L995.16,645.17 L996.33,645.01 L997.51,644.85 L998.68,644.69 L999.86,644.53 L1001.03,644.36 L1002.20,644.20 L1003.38,644.03 L1004.55,643.86 L1005.73,643.69 L1006.90,643.52 L1008.07,643.35 L1009.25,643.17 L1010.42,643.00 L1011.60,642.82 L1012.77,642.64 L1013.94,642.46 L1015.12,642.28 L1016.29,642.10 L1017.47,641.92 L1018.64,641.73 L1019.81,641.54 L1020.99,641.35 L1022.16,641.16 L1023.34,640.97 L1024.51,640.78 L1025.68,640.58 L1026.86,640.38 L1028.03,640.18 L1029.21,639.98 L1030.38,639.78 L1031.55,639.58 L1032.73,639.37 L1033.90,639.16 L1035.08,638.95 L1036.25,638.74 L1037.42,638.53 L1038.60,638.31 L1039.77,638.09 L1040.95,637.88 L1042.12,637.65 L1043.29,637.43 L1044.47,637.21 L1045.64,636.98 L1046.82,636.75 L1047.99,636.52 L1049.16,636.28 L1050.34,636.05 L1051.51,635.81 L1052.69,635.57 L1053.86,635.33 L1055.03,635.08 L1056.21,634.84 L1057.38,634.59 L1058.56,634.34 L1059.73,634.08 L1060.90,633.83 L1062.08,633.57 L1063.25,633.31 L1064.43,633.04 L1065.60,632.78 L1066.77,632.51 L1067.95,632.24 L1069.12,631.96 L1070.30,631.69 L1071.47,631.41 L1072.64,631.13 L1073.82,630.84 L1074.99,630.55 L1076.17,630.26 L1077.34,629.97 L1078.51,629.67 L1079.69,629.37 L1080.86,629.07 L1082.04,628.77 L1083.21,628.46 L1084.38,628.15 L1085.56,627.83 L1086.73,627.52 L1087.91,627.19 L1089.08,626.87 L1090.25,626.54 L1091.43,626.21 L1092.60,625.88 L1093.78,625.54 L1094.95,625.20 L1096.12,624.85 L1097.30,624.50 L1098.47,624.15 L1099.65,623.80 L1100.82,623.44 L1101.99,623.07 L1103.17,622.70 L1104.34,622.33 L1105.52,621.96 L1106.69,621.58 L1107.86,621.19 L1109.04,620.81 L1110.21,620.41 L1111.39,620.02 L1112.56,619.62 L1113.73,619.21 L1114.91,618.80 L1116.08,618.39 L1117.26,617.97 L1118.43,617.55 L1119.60,617.12 L1120.78,616.69 L1121.95,616.25 L1123.13,615.80 L1124.30,615.36 L1125.47,614.90 L1126.65,614.45 L1127.82,613.98 L1129.00,613.51 L1130.17,613.04 L1131.34,612.56 L1132.52,612.08 L1133.69,611.59 L1134.87,611.09 L1136.04,610.59 L1137.21,610.08 L1138.39,609.57 L1139.56,609.05 L1140.74,608.52 L1141.91,607.99 L1143.08,607.45 L1144.26,606.91 L1145.43,606.35 L1146.61,605.80 L1147.78,605.23 L1148.95,604.66 L1150.13,604.08 L1151.30,603.50 L1152.48,602.91 L1153.65,602.31 L1154.82,601.70 L1156.00,601.09 L1157.17,600.46 L1158.35,599.84 L1159.52,599.20 L1160.69,598.56 L1161.87,597.90 L1163.04,597.24 L1164.22,596.57 L1165.39,595.90 L1166.56,595.21 L1167.74,594.52 L1168.91,593.82 L1170.09,593.11 L1171.26,592.39 L1172.43,591.66 L1173.61,590.92 L1174.78,590.18 L1175.96,589.42 L1177.13,588.66 L1178.30,587.88 L1179.48,587.10 L1180.65,586.30 L1181.83,585.50 L1183.00,584.68 L1184.17,583.86 L1185.35,583.02 L1186.52,582.18 L1187.70,581.32 L1188.87,580.46 L1190.04,579.58 L1191.22,578.69 L1192.39,577.79 L1193.57,576.88 L1194.74,575.96 L1195.91,575.02 L1197.09,574.08 L1198.26,573.12 L1199.44,572.15 L1200.61,571.17 L1201.78,570.17 L1202.96,569.16 L1204.13,568.14 L1205.31,567.11 L1206.48,566.07 L1207.65,565.01 L1208.83,563.93 L1210.00,562.85 L1211.18,561.75 L1212.35,560.63 L1213.52,559.51 L1214.70,558.37 L1215.87,557.21 L1217.05,556.04 L1218.22,554.85 L1219.39,553.65 L1220.57,552.44 L1221.74,551.21 L1222.92,549.96 L1224.09,548.70 L1225.26,547.43 L1226.44,546.13 L1227.61,544.83 L1228.79,543.50 L1229.96,542.16 L1231.13,540.80 L1232.31,539.43 L1233.48,538.04 L1234.66,536.63 L1235.83,535.21 L1237.00,533.76 L1238.18,532.30 L1239.35,530.83 L1240.53,529.33 L1241.70,527.82 L1242.87,526.28 L1244.05,524.73 L1245.22,523.17 L1246.40,521.58 L1247.57,519.97 L1248.74,518.35 L1249.92,516.70 L1251.09,515.04 L1252.27,513.36 L1253.44,511.65 L1254.61,509.93 L1255.79,508.19 L1256.96,506.43 L1258.14,504.65 L1259.31,502.84 L1260.48,501.02 L1261.66,499.18 L1262.83,497.32 L1264.01,495.43 L1265.18,493.53 L1266.35,491.60 L1267.53,489.65 L1268.70,487.69 L1269.88,485.70 L1271.05,483.69 L1272.22,481.66 L1273.40,479.61 L1274.57,477.53 L1275.75,475.44 L1276.92,473.32 L1278.09,471.18 L1279.27,469.03 L1280.44,466.85 L1281.62,464.65 L1282.79,462.42 L1283.96,460.18 L1285.14,457.92 L1286.31,455.63 L1287.49,453.33 L1288.66,451.00 L1289.83,448.65 L1291.01,446.28 L1292.18,443.90 L1293.36,441.49 L1294.53,439.06 L1295.70,436.61 L1296.88,434.15 L1298.05,431.66 L1299.23,429.16 L1300.40,426.64 L1301.57,424.09 L1302.75,421.54 L1303.92,418.96 L1305.10,416.37 L1306.27,413.76 L1307.44,411.14 L1308.62,408.50 L1309.79,405.84 L1310.97,403.17 L1312.14,400.49 L1313.31,397.80 L1314.49,395.09 L1315.66,392.37 L1316.84,389.64 L1318.01,386.91 L1319.18,384.16 L1320.36,381.40 L1321.53,378.64 L1322.71,375.87 L1323.88,373.10 L1325.05,370.32 L1326.23,367.54 L1327.40,364.75 L1328.58,361.97 L1329.75,359.19 L1330.92,356.40 L1332.10,353.63 L1333.27,350.85 L1334.45,348.08 L1335.62,345.32 L1336.79,342.57 L1337.97,339.83 L1339.14,337.10 L1340.32,334.38 L1341.49,331.68 L1342.66,328.99 L1343.84,326.32 L1345.01,323.67 L1346.19,321.05 L1347.36,318.45 L1348.53,315.87 L1349.71,313.32 L1350.88,310.80 L1352.06,308.31 L1353.23,305.86 L1354.40,303.44 L1355.58,301.05 L1356.75,298.71 L1357.93,296.40 L1359.10,294.14 L1360.27,291.93 L1361.45,289.76 L1362.62,287.64 L1363.80,285.57 L1364.97,283.55 L1366.14,281.59 L1367.32,279.68 L1368.49,277.84 L1369.67,276.05 L1370.84,274.33 L1372.01,272.67 L1373.19,271.07 L1374.36,269.55 L1375.54,268.09 L1376.71,266.70 L1377.88,265.39 L1379.06,264.15 L1380.23,262.99 L1381.41,261.90 L1382.58,260.89 L1383.75,259.96 L1384.93,259.10 L1386.10,258.33 L1387.28,257.64 L1388.45,257.04 L1389.62,256.52 L1390.80,256.08 L1391.97,255.72 L1393.15,255.46 L1394.32,255.27 L1395.49,255.17 L1396.67,255.16 L1397.84,255.24 L1399.02,255.40 L1400.19,255.64 L1401.36,255.97 L1402.54,256.39 L1403.71,256.88 L1404.89,257.47 L1406.06,258.13 L1407.23,258.88 L1408.41,259.71 L1409.58,260.62 L1410.76,261.61 L1411.93,262.67 L1413.10,263.82 L1414.28,265.04 L1415.45,266.33 L1416.63,267.70 L1417.80,269.13 L1418.97,270.64 L1420.15,272.21 L1421.32,273.86 L1422.50,275.56 L1423.67,277.33 L1424.84,279.16 L1426.02,281.05 L1427.19,283.00 L1428.37,285.00 L1429.54,287.05 L1430.71,289.16 L1431.89,291.31 L1433.06,293.52 L1434.24,295.76 L1435.41,298.06 L1436.58,300.39 L1437.76,302.76 L1438.93,305.17 L1440.11,307.62 L1441.28,310.10 L1442.45,312.61 L1443.63,315.15 L1444.80,317.72 L1445.98,320.32 L1447.15,322.94 L1448.32,325.58 L1449.50,328.24 L1450.67,330.92 L1451.85,333.62 L1453.02,336.33 L1454.19,339.06 L1455.37,341.80 L1456.54,344.55 L1457.72,347.31 L1458.89,350.08 L1460.06,352.85 L1461.24,355.63 L1462.41,358.41 L1463.59,361.19 L1464.76,363.97 L1465.93,366.76 L1467.11,369.54 L1468.28,372.32 L1469.46,375.09 L1470.63,377.87 L1471.80,380.63 L1472.98,383.39 L1474.15,386.14 L1475.33,388.88 L1476.50,391.61 L1477.67,394.33 L1478.85,397.04 L1480.02,399.74 L1481.20,402.42 L1482.37,405.10 L1483.54,407.76 L1484.72,410.40 L1485.89,413.03 L1487.07,415.64 L1488.24,418.24 L1489.41,420.82 L1490.59,423.38 L1491.76,425.93 L1492.94,428.45 L1494.11,430.96 L1495.28,433.45 L1496.46,435.93 L1497.63,438.38 L1498.81,440.81 L1499.98,443.22 L1501.15,445.62 L1502.33,447.99 L1503.50,450.34 L1504.68,452.68 L1505.85,454.99 L1507.02,457.28 L1508.20,459.55 L1509.37,461.80 L1510.55,464.03 L1511.72,466.23 L1512.89,468.42 L1514.07,470.58 L1515.24,472.73 L1516.42,474.85 L1517.59,476.95 L1518.76,479.03 L1519.94,481.09 L1521.11,483.12 L1522.29,485.14 L1523.46,487.13 L1524.63,489.11 L1525.81,491.06 L1526.98,492.99 L1528.16,494.90 L1529.33,496.79 L1530.50,498.66 L1531.68,500.51 L1532.85,502.34 L1534.03,504.14 L1535.20,505.93 L1536.37,507.70 L1537.55,509.45 L1538.72,511.17 L1539.90,512.88 L1541.07,514.57 L1542.24,516.24 L1543.42,517.89 L1544.59,519.52 L1545.77,521.13 L1546.94,522.72 L1548.11,524.30 L1549.29,525.85 L1550.46,527.39 L1551.64,528.91 L1552.81,530.41 L1553.98,531.89 L1555.16,533.36 L1556.33,534.80 L1557.51,536.23 L1558.68,537.65 L1559.85,539.04 L1561.03,540.42 L1562.20,541.78 L1563.38,543.13 L1564.55,544.46 L1565.72,545.77 L1566.90,547.07 L1568.07,548.35 L1569.25,549.61 L1570.42,550.86 L1571.59,552.10 L1572.77,553.32 L1573.94,554.52 L1575.12,555.71 L1576.29,556.88 L1577.46,558.04 L1578.64,559.19 L1579.81,560.32 L1580.99,561.44 L1582.16,562.54 L1583.33,563.63 L1584.51,564.71 L1585.68,565.77 L1586.86,566.82 L1588.03,567.86 L1589.20,568.88 L1590.38,569.89 L1591.55,570.89 L1592.73,571.87 L1593.90,572.85 L1595.07,573.81 L1596.25,574.76 L1597.42,575.70 L1598.60,576.62 L1599.77,577.54 L1600.94,578.44 L1602.12,579.33 L1603.29,580.21 L1604.47,581.08 L1605.64,581.94 L1606.81,582.79 L1607.99,583.63 L1609.16,584.45 L1610.34,585.27 L1611.51,586.08 L1612.68,586.88 L1613.86,587.66 L1615.03,588.44 L1616.21,589.21 L1617.38,589.97 L1618.55,590.71 L1619.73,591.45 L1620.90,592.19 L1622.08,592.91 L1623.25,593.62 L1624.42,594.32 L1625.60,595.02 L1626.77,595.71 L1627.95,596.39 L1629.12,597.06 L1630.29,597.72 L1631.47,598.37 L1632.64,599.02 L1633.82,599.66 L1634.99,600.29 L1636.16,600.91 L1637.34,601.53 L1638.51,602.14 L1639.69,602.74 L1640.86,603.33 L1642.03,603.92 L1643.21,604.50 L1644.38,605.07 L1645.56,605.64 L1646.73,606.20 L1647.90,606.75 L1649.08,607.30 L1650.25,607.84 L1651.43,608.37 L1652.60,608.90 L1653.77,609.42 L1654.95,609.94 L1656.12,610.45 L1657.30,610.95 L1658.47,611.45 L1659.64,611.94 L1660.82,612.43 L1661.99,612.91 L1663.17,613.38 L1664.34,613.85 L1665.51,614.32 L1666.69,614.78 L1667.86,615.23 L1669.04,615.68 L1670.21,616.12 L1671.38,616.56 L1672.56,617.00 L1673.73,617.43 L1674.91,617.85 L1676.08,618.27 L1677.25,618.69 L1678.43,619.10 L1679.60,619.50 L1680.78,619.91 L1681.95,620.30 L1683.12,620.70 L1684.30,621.09 L1685.47,621.47 L1686.65,621.85 L1687.82,622.23 L1688.99,622.60 L1690.17,622.97 L1691.34,623.33 L1692.52,623.70 L1693.69,624.05 L1694.86,624.41 L1696.04,624.76 L1697.21,625.10 L1698.39,625.44 L1699.56,625.78 L1700.73,626.12 L1701.91,626.45 L1703.08,626.78 L1704.26,627.10 L1705.43,627.43 L1706.60,627.74 L1707.78,628.06 L1708.95,628.37 L1710.13,628.68 L1711.30,628.99 L1712.47,629.29 L1713.65,629.59 L1714.82,629.89 L1716.00,630.18 L1717.17,630.47 L1718.34,630.76 L1719.52,631.05 L1720.69,631.33 L1721.87,631.61 L1723.04,631.89 L1724.21,632.16 L1725.39,632.43 L1726.56,632.70 L1727.74,632.97 L1728.91,633.23 L1730.08,633.50 L1731.26,633.76 L1732.43,634.01 L1733.61,634.27 L1734.78,634.52 L1735.95,634.77 L1737.13,635.02 L1738.30,635.26 L1739.48,635.50 L1740.65,635.74 L1741.82,635.98 L1743.00,636.22 L1744.17,636.45 L1745.35,636.69 L1746.52,636.91 L1747.69,637.14 L1748.87,637.37 L1750.04,637.59 L1751.22,637.81 L1752.39,638.03 L1753.56,638.25 L1754.74,638.47 L1755.91,638.68 L1757.09,638.89 L1758.26,639.10 L1759.43,639.31 L1760.61,639.52 L1761.78,639.72 L1762.96,639.93 L1764.13,640.13 L1765.30,640.33 L1766.48,640.53 L1767.65,640.72 L1768.83,640.92 L1770.00,641.11" stroke="#000" stroke-width="6.9" stroke-dasharray="0 12.5"/>
<path d="M948.20,632.39 L949.37,632.08 L950.55,631.77 L951.72,631.46 L952.90,631.14 L954.07,630.81 L955.24,630.49 L956.42,630.16 L957.59,629.82 L958.77,629.48 L959.94,629.14 L961.11,628.79 L962.29,628.44 L963.46,628.09 L964.64,627.73 L965.81,627.37 L966.98,627.00 L968.16,626.63 L969.33,626.25 L970.51,625.87 L971.68,625.48 L972.85,625.09 L974.03,624.70 L975.20,624.30 L976.38,623.89 L977.55,623.48 L978.72,623.07 L979.90,622.65 L981.07,622.22 L982.25,621.79 L983.42,621.36 L984.59,620.92 L985.77,620.47 L986.94,620.02 L988.12,619.56 L989.29,619.09 L990.46,618.62 L991.64,618.15 L992.81,617.67 L993.99,617.18 L995.16,616.68 L996.33,616.18 L997.51,615.68 L998.68,615.16 L999.86,614.64 L1001.03,614.12 L1002.20,613.58 L1003.38,613.04 L1004.55,612.50 L1005.73,611.94 L1006.90,611.38 L1008.07,610.81 L1009.25,610.24 L1010.42,609.66 L1011.60,609.07 L1012.77,608.47 L1013.94,607.86 L1015.12,607.25 L1016.29,606.63 L1017.47,606.00 L1018.64,605.36 L1019.81,604.71 L1020.99,604.06 L1022.16,603.40 L1023.34,602.72 L1024.51,602.04 L1025.68,601.36 L1026.86,600.66 L1028.03,599.95 L1029.21,599.24 L1030.38,598.51 L1031.55,597.78 L1032.73,597.03 L1033.90,596.28 L1035.08,595.52 L1036.25,594.74 L1037.42,593.96 L1038.60,593.17 L1039.77,592.37 L1040.95,591.55 L1042.12,590.73 L1043.29,589.89 L1044.47,589.05 L1045.64,588.19 L1046.82,587.33 L1047.99,586.45 L1049.16,585.56 L1050.34,584.66 L1051.51,583.75 L1052.69,582.83 L1053.86,581.89 L1055.03,580.95 L1056.21,579.99 L1057.38,579.02 L1058.56,578.04 L1059.73,577.05 L1060.90,576.04 L1062.08,575.02 L1063.25,573.99 L1064.43,572.95 L1065.60,571.89 L1066.77,570.82 L1067.95,569.74 L1069.12,568.64 L1070.30,567.53 L1071.47,566.41 L1072.64,565.27 L1073.82,564.12 L1074.99,562.96 L1076.17,561.78 L1077.34,560.59 L1078.51,559.39 L1079.69,558.17 L1080.86,556.94 L1082.04,555.69 L1083.21,554.43 L1084.38,553.15 L1085.56,551.86 L1086.73,550.55 L1087.91,549.23 L1089.08,547.89 L1090.25,546.54 L1091.43,545.18 L1092.60,543.79 L1093.78,542.40 L1094.95,540.98 L1096.12,539.56 L1097.30,538.11 L1098.47,536.65 L1099.65,535.18 L1100.82,533.69 L1101.99,532.18 L1103.17,530.66 L1104.34,529.12 L1105.52,527.56 L1106.69,525.99 L1107.86,524.41 L1109.04,522.80 L1110.21,521.19 L1111.39,519.55 L1112.56,517.90 L1113.73,516.23 L1114.91,514.55 L1116.08,512.85 L1117.26,511.13 L1118.43,509.40 L1119.60,507.65 L1120.78,505.89 L1121.95,504.11 L1123.13,502.31 L1124.30,500.50 L1125.47,498.67 L1126.65,496.82 L1127.82,494.96 L1129.00,493.09 L1130.17,491.20 L1131.34,489.29 L1132.52,487.37 L1133.69,485.43 L1134.87,483.48 L1136.04,481.51 L1137.21,479.53 L1138.39,477.53 L1139.56,475.52 L1140.74,473.49 L1141.91,471.45 L1143.08,469.40 L1144.26,467.34 L1145.43,465.26 L1146.61,463.17 L1147.78,461.06 L1148.95,458.95 L1150.13,456.82 L1151.30,454.68 L1152.48,452.53 L1153.65,450.37 L1154.82,448.20 L1156.00,446.02 L1157.17,443.83 L1158.35,441.64 L1159.52,439.43 L1160.69,437.22 L1161.87,435.00 L1163.04,432.77 L1164.22,430.54 L1165.39,428.31 L1166.56,426.06 L1167.74,423.82 L1168.91,421.57 L1170.09,419.32 L1171.26,417.07 L1172.43,414.82 L1173.61,412.57 L1174.78,410.32 L1175.96,408.07 L1177.13,405.83 L1178.30,403.59 L1179.48,401.36 L1180.65,399.13 L1181.83,396.90 L1183.00,394.69 L1184.17,392.49 L1185.35,390.29 L1186.52,388.11 L1187.70,385.94 L1188.87,383.78 L1190.04,381.64 L1191.22,379.52 L1192.39,377.41 L1193.57,375.32 L1194.74,373.25 L1195.91,371.21 L1197.09,369.18 L1198.26,367.18 L1199.44,365.21 L1200.61,363.26 L1201.78,361.34 L1202.96,359.45 L1204.13,357.60 L1205.31,355.77 L1206.48,353.98 L1207.65,352.23 L1208.83,350.51 L1210.00,348.83 L1211.18,347.19 L1212.35,345.59 L1213.52,344.03 L1214.70,342.51 L1215.87,341.05 L1217.05,339.62 L1218.22,338.25 L1219.39,336.92 L1220.57,335.65 L1221.74,334.42 L1222.92,333.25 L1224.09,332.13 L1225.26,331.07 L1226.44,330.06 L1227.61,329.11 L1228.79,328.22 L1229.96,327.39 L1231.13,326.61 L1232.31,325.90 L1233.48,325.25 L1234.66,324.66 L1235.83,324.13 L1237.00,323.66 L1238.18,323.26 L1239.35,322.92 L1240.53,322.65 L1241.70,322.44 L1242.87,322.30 L1244.05,322.22 L1245.22,322.20 L1246.40,322.25 L1247.57,322.37 L1248.74,322.55 L1249.92,322.79 L1251.09,323.10 L1252.27,323.48 L1253.44,323.92 L1254.61,324.42 L1255.79,324.98 L1256.96,325.61 L1258.14,326.29 L1259.31,327.04 L1260.48,327.85 L1261.66,328.71 L1262.83,329.64 L1264.01,330.62 L1265.18,331.66 L1266.35,332.75 L1267.53,333.90 L1268.70,335.10 L1269.88,336.35 L1271.05,337.66 L1272.22,339.01 L1273.40,340.41 L1274.57,341.86 L1275.75,343.36 L1276.92,344.89 L1278.09,346.48 L1279.27,348.10 L1280.44,349.76 L1281.62,351.46 L1282.79,353.20 L1283.96,354.98 L1285.14,356.79 L1286.31,358.63 L1287.49,360.51 L1288.66,362.41 L1289.83,364.35 L1291.01,366.31 L1292.18,368.30 L1293.36,370.31 L1294.53,372.35 L1295.70,374.41 L1296.88,376.49 L1298.05,378.59 L1299.23,380.70 L1300.40,382.84 L1301.57,384.99 L1302.75,387.15 L1303.92,389.33 L1305.10,391.52 L1306.27,393.72 L1307.44,395.93 L1308.62,398.15 L1309.79,400.37 L1310.97,402.61 L1312.14,404.84 L1313.31,407.09 L1314.49,409.33 L1315.66,411.58 L1316.84,413.83 L1318.01,416.08 L1319.18,418.33 L1320.36,420.58 L1321.53,422.83 L1322.71,425.08 L1323.88,427.32 L1325.05,429.56 L1326.23,431.79 L1327.40,434.02 L1328.58,436.24 L1329.75,438.46 L1330.92,440.67 L1332.10,442.87 L1333.27,445.06 L1334.45,447.24 L1335.62,449.42 L1336.79,451.58 L1337.97,453.74 L1339.14,455.88 L1340.32,458.01 L1341.49,460.13 L1342.66,462.24 L1343.84,464.34 L1345.01,466.42 L1346.19,468.50 L1347.36,470.55 L1348.53,472.60 L1349.71,474.63 L1350.88,476.65 L1352.06,478.65 L1353.23,480.64 L1354.40,482.61 L1355.58,484.57 L1356.75,486.52 L1357.93,488.44 L1359.10,490.36 L1360.27,492.26 L1361.45,494.14 L1362.62,496.01 L1363.80,497.86 L1364.97,499.69 L1366.14,501.51 L1367.32,503.32 L1368.49,505.11 L1369.67,506.88 L1370.84,508.63 L1372.01,510.37 L1373.19,512.10 L1374.36,513.80 L1375.54,515.49 L1376.71,517.17 L1377.88,518.83 L1379.06,520.47 L1380.23,522.09 L1381.41,523.70 L1382.58,525.30 L1383.75,526.88 L1384.93,528.44 L1386.10,529.98 L1387.28,531.51 L1388.45,533.03 L1389.62,534.52 L1390.80,536.01 L1391.97,537.47 L1393.15,538.92 L1394.32,540.36 L1395.49,541.78 L1396.67,543.18 L1397.84,544.57 L1399.02,545.94 L1400.19,547.30 L1401.36,548.64 L1402.54,549.97 L1403.71,551.28 L1404.89,552.58 L1406.06,553.87 L1407.23,555.13 L1408.41,556.39 L1409.58,557.63 L1410.76,558.85 L1411.93,560.07 L1413.10,561.26 L1414.28,562.45 L1415.45,563.61 L1416.63,564.77 L1417.80,565.91 L1418.97,567.04 L1420.15,568.16 L1421.32,569.26 L1422.50,570.35 L1423.67,571.42 L1424.84,572.48 L1426.02,573.53 L1427.19,574.57 L1428.37,575.59 L1429.54,576.60 L1430.71,577.60 L1431.89,578.59 L1433.06,579.57 L1434.24,580.53 L1435.41,581.48 L1436.58,582.42 L1437.76,583.35 L1438.93,584.26 L1440.11,585.17 L1441.28,586.06 L1442.45,586.94 L1443.63,587.81 L1444.80,588.67 L1445.98,589.52 L1447.15,590.36 L1448.32,591.19 L1449.50,592.01 L1450.67,592.82 L1451.85,593.61 L1453.02,594.40 L1454.19,595.18 L1455.37,595.94 L1456.54,596.70 L1457.72,597.45 L1458.89,598.19 L1460.06,598.92 L1461.24,599.64 L1462.41,600.35 L1463.59,601.05 L1464.76,601.74 L1465.93,602.43 L1467.11,603.10 L1468.28,603.77 L1469.46,604.43 L1470.63,605.08 L1471.80,605.72 L1472.98,606.35 L1474.15,606.98 L1475.33,607.59 L1476.50,608.20 L1477.67,608.80 L1478.85,609.40 L1480.02,609.98 L1481.20,610.56 L1482.37,611.13 L1483.54,611.70 L1484.72,612.25 L1485.89,612.80 L1487.07,613.35 L1488.24,613.88 L1489.41,614.41 L1490.59,614.94 L1491.76,615.45 L1492.94,615.96 L1494.11,616.46 L1495.28,616.96 L1496.46,617.45 L1497.63,617.94 L1498.81,618.42 L1499.98,618.89 L1501.15,619.35 L1502.33,619.82 L1503.50,620.27 L1504.68,620.72 L1505.85,621.16 L1507.02,621.60 L1508.20,622.03 L1509.37,622.46 L1510.55,622.88 L1511.72,623.30 L1512.89,623.71 L1514.07,624.12 L1515.24,624.52 L1516.42,624.92 L1517.59,625.31 L1518.76,625.70 L1519.94,626.08 L1521.11,626.46 L1522.29,626.84 L1523.46,627.21 L1524.63,627.57 L1525.81,627.93 L1526.98,628.29 L1528.16,628.64 L1529.33,628.99 L1530.50,629.33 L1531.68,629.67 L1532.85,630.01 L1534.03,630.34 L1535.20,630.67 L1536.37,630.99 L1537.55,631.32 L1538.72,631.63 L1539.90,631.95 L1541.07,632.26 L1542.24,632.56 L1543.42,632.87 L1544.59,633.17 L1545.77,633.46 L1546.94,633.76 L1548.11,634.04 L1549.29,634.33 L1550.46,634.61 L1551.64,634.90 L1552.81,635.17 L1553.98,635.45 L1555.16,635.72 L1556.33,635.99 L1557.51,636.25 L1558.68,636.51 L1559.85,636.77 L1561.03,637.03 L1562.20,637.28 L1563.38,637.54 L1564.55,637.78 L1565.72,638.03 L1566.90,638.27 L1568.07,638.52 L1569.25,638.75 L1570.42,638.99 L1571.59,639.22 L1572.77,639.46 L1573.94,639.68 L1575.12,639.91 L1576.29,640.14 L1577.46,640.36 L1578.64,640.58 L1579.81,640.80 L1580.99,641.01 L1582.16,641.22 L1583.33,641.44 L1584.51,641.64 L1585.68,641.85 L1586.86,642.06 L1588.03,642.26 L1589.20,642.46 L1590.38,642.66 L1591.55,642.86 L1592.73,643.05 L1593.90,643.25 L1595.07,643.44 L1596.25,643.63 L1597.42,643.82 L1598.60,644.00 L1599.77,644.19 L1600.94,644.37 L1602.12,644.55 L1603.29,644.73 L1604.47,644.91 L1605.64,645.08 L1606.81,645.26 L1607.99,645.43 L1609.16,645.60 L1610.34,645.77 L1611.51,645.94 L1612.68,646.11 L1613.86,646.27 L1615.03,646.44 L1616.21,646.60 L1617.38,646.76 L1618.55,646.92 L1619.73,647.08 L1620.90,647.24 L1622.08,647.39 L1623.25,647.55 L1624.42,647.70 L1625.60,647.85 L1626.77,648.00 L1627.95,648.15 L1629.12,648.30 L1630.29,648.44 L1631.47,648.59 L1632.64,648.73 L1633.82,648.88 L1634.99,649.02 L1636.16,649.16 L1637.34,649.30 L1638.51,649.44 L1639.69,649.57 L1640.86,649.71 L1642.03,649.84 L1643.21,649.98 L1644.38,650.11 L1645.56,650.24 L1646.73,650.37 L1647.90,650.50 L1649.08,650.63 L1650.25,650.76 L1651.43,650.88 L1652.60,651.01 L1653.77,651.13 L1654.95,651.26 L1656.12,651.38 L1657.30,651.50 L1658.47,651.62 L1659.64,651.74 L1660.82,651.86 L1661.99,651.98 L1663.17,652.09 L1664.34,652.21 L1665.51,652.32 L1666.69,652.44 L1667.86,652.55 L1669.04,652.66 L1670.21,652.77 L1671.38,652.89 L1672.56,653.00 L1673.73,653.10 L1674.91,653.21 L1676.08,653.32 L1677.25,653.43 L1678.43,653.53 L1679.60,653.64 L1680.78,653.74 L1681.95,653.84 L1683.12,653.95 L1684.30,654.05 L1685.47,654.15 L1686.65,654.25 L1687.82,654.35 L1688.99,654.45 L1690.17,654.55 L1691.34,654.64 L1692.52,654.74 L1693.69,654.84 L1694.86,654.93 L1696.04,655.03 L1697.21,655.12 L1698.39,655.21 L1699.56,655.31 L1700.73,655.40 L1701.91,655.49 L1703.08,655.58 L1704.26,655.67 L1705.43,655.76 L1706.60,655.85 L1707.78,655.94 L1708.95,656.03 L1710.13,656.11 L1711.30,656.20 L1712.47,656.29 L1713.65,656.37 L1714.82,656.45 L1716.00,656.54 L1717.17,656.62 L1718.34,656.71 L1719.52,656.79 L1720.69,656.87 L1721.87,656.95 L1723.04,657.03 L1724.21,657.11 L1725.39,657.19 L1726.56,657.27 L1727.74,657.35 L1728.91,657.43 L1730.08,657.50 L1731.26,657.58 L1732.43,657.66 L1733.61,657.73 L1734.78,657.81 L1735.95,657.88 L1737.13,657.96 L1738.30,658.03 L1739.48,658.10 L1740.65,658.18 L1741.82,658.25 L1743.00,658.32 L1744.17,658.39 L1745.35,658.46 L1746.52,658.53 L1747.69,658.60 L1748.87,658.67 L1750.04,658.74 L1751.22,658.81 L1752.39,658.88 L1753.56,658.95 L1754.74,659.02 L1755.91,659.08 L1757.09,659.15 L1758.26,659.22 L1759.43,659.28 L1760.61,659.35 L1761.78,659.41 L1762.96,659.48 L1764.13,659.54 L1765.30,659.60 L1766.48,659.67 L1767.65,659.73 L1768.83,659.79 L1770.00,659.85" stroke="#000" stroke-width="6.9" stroke-dasharray="43.58 25.17"/>
<path d="M948.20,607.47 L949.37,607.05 L950.55,606.62 L951.72,606.19 L952.90,605.75 L954.07,605.31 L955.24,604.87 L956.42,604.42 L957.59,603.96 L958.77,603.50 L959.94,603.04 L961.11,602.57 L962.29,602.10 L963.46,601.62 L964.64,601.13 L965.81,600.64 L966.98,600.15 L968.16,599.65 L969.33,599.14 L970.51,598.63 L971.68,598.11 L972.85,597.59 L974.03,597.06 L975.20,596.52 L976.38,595.98 L977.55,595.43 L978.72,594.88 L979.90,594.32 L981.07,593.76 L982.25,593.18 L983.42,592.60 L984.59,592.02 L985.77,591.43 L986.94,590.83 L988.12,590.22 L989.29,589.61 L990.46,588.99 L991.64,588.36 L992.81,587.73 L993.99,587.09 L995.16,586.44 L996.33,585.78 L997.51,585.12 L998.68,584.45 L999.86,583.77 L1001.03,583.08 L1002.20,582.39 L1003.38,581.68 L1004.55,580.97 L1005.73,580.25 L1006.90,579.52 L1008.07,578.78 L1009.25,578.04 L1010.42,577.28 L1011.60,576.52 L1012.77,575.74 L1013.94,574.96 L1015.12,574.17 L1016.29,573.37 L1017.47,572.56 L1018.64,571.74 L1019.81,570.90 L1020.99,570.06 L1022.16,569.21 L1023.34,568.35 L1024.51,567.48 L1025.68,566.60 L1026.86,565.71 L1028.03,564.81 L1029.21,563.89 L1030.38,562.97 L1031.55,562.03 L1032.73,561.08 L1033.90,560.12 L1035.08,559.15 L1036.25,558.17 L1037.42,557.18 L1038.60,556.17 L1039.77,555.16 L1040.95,554.13 L1042.12,553.08 L1043.29,552.03 L1044.47,550.96 L1045.64,549.88 L1046.82,548.79 L1047.99,547.68 L1049.16,546.56 L1050.34,545.43 L1051.51,544.28 L1052.69,543.12 L1053.86,541.95 L1055.03,540.76 L1056.21,539.56 L1057.38,538.34 L1058.56,537.11 L1059.73,535.86 L1060.90,534.60 L1062.08,533.33 L1063.25,532.04 L1064.43,530.73 L1065.60,529.41 L1066.77,528.08 L1067.95,526.72 L1069.12,525.36 L1070.30,523.97 L1071.47,522.57 L1072.64,521.16 L1073.82,519.72 L1074.99,518.27 L1076.17,516.81 L1077.34,515.33 L1078.51,513.83 L1079.69,512.31 L1080.86,510.77 L1082.04,509.22 L1083.21,507.65 L1084.38,506.06 L1085.56,504.46 L1086.73,502.84 L1087.91,501.19 L1089.08,499.53 L1090.25,497.86 L1091.43,496.16 L1092.60,494.44 L1093.78,492.71 L1094.95,490.96 L1096.12,489.18 L1097.30,487.39 L1098.47,485.58 L1099.65,483.75 L1100.82,481.90 L1101.99,480.03 L1103.17,478.14 L1104.34,476.23 L1105.52,474.30 L1106.69,472.35 L1107.86,470.38 L1109.04,468.39 L1110.21,466.38 L1111.39,464.35 L1112.56,462.30 L1113.73,460.22 L1114.91,458.13 L1116.08,456.02 L1117.26,453.88 L1118.43,451.73 L1119.60,449.55 L1120.78,447.35 L1121.95,445.13 L1123.13,442.89 L1124.30,440.63 L1125.47,438.35 L1126.65,436.05 L1127.82,433.72 L1129.00,431.38 L1130.17,429.01 L1131.34,426.63 L1132.52,424.22 L1133.69,421.79 L1134.87,419.34 L1136.04,416.87 L1137.21,414.39 L1138.39,411.87 L1139.56,409.34 L1140.74,406.79 L1141.91,404.22 L1143.08,401.63 L1144.26,399.02 L1145.43,396.39 L1146.61,393.74 L1147.78,391.08 L1148.95,388.39 L1150.13,385.68 L1151.30,382.96 L1152.48,380.22 L1153.65,377.46 L1154.82,374.69 L1156.00,371.89 L1157.17,369.08 L1158.35,366.26 L1159.52,363.42 L1160.69,360.56 L1161.87,357.69 L1163.04,354.81 L1164.22,351.91 L1165.39,349.00 L1166.56,346.08 L1167.74,343.15 L1168.91,340.20 L1170.09,337.25 L1171.26,334.29 L1172.43,331.31 L1173.61,328.33 L1174.78,325.34 L1175.96,322.35 L1177.13,319.34 L1178.30,316.34 L1179.48,313.33 L1180.65,310.31 L1181.83,307.30 L1183.00,304.28 L1184.17,301.26 L1185.35,298.24 L1186.52,295.22 L1187.70,292.20 L1188.87,289.19 L1190.04,286.19 L1191.22,283.18 L1192.39,280.19 L1193.57,277.20 L1194.74,274.22 L1195.91,271.25 L1197.09,268.30 L1198.26,265.35 L1199.44,262.42 L1200.61,259.50 L1201.78,256.60 L1202.96,253.72 L1204.13,250.86 L1205.31,248.01 L1206.48,245.19 L1207.65,242.39 L1208.83,239.61 L1210.00,236.86 L1211.18,234.13 L1212.35,231.43 L1213.52,228.76 L1214.70,226.12 L1215.87,223.51 L1217.05,220.93 L1218.22,218.38 L1219.39,215.87 L1220.57,213.40 L1221.74,210.96 L1222.92,208.55 L1224.09,206.19 L1225.26,203.86 L1226.44,201.58 L1227.61,199.33 L1228.79,197.13 L1229.96,194.97 L1231.13,192.85 L1232.31,190.78 L1233.48,188.75 L1234.66,186.76 L1235.83,184.82 L1237.00,182.93 L1238.18,181.08 L1239.35,179.27 L1240.53,177.52 L1241.70,175.81 L1242.87,174.14 L1244.05,172.52 L1245.22,170.95 L1246.40,169.43 L1247.57,167.95 L1248.74,166.51 L1249.92,165.12 L1251.09,163.78 L1252.27,162.48 L1253.44,161.22 L1254.61,160.01 L1255.79,158.84 L1256.96,157.71 L1258.14,156.62 L1259.31,155.57 L1260.48,154.57 L1261.66,153.60 L1262.83,152.66 L1264.01,151.76 L1265.18,150.90 L1266.35,150.07 L1267.53,149.27 L1268.70,148.51 L1269.88,147.77 L1271.05,147.05 L1272.22,146.37 L1273.40,145.71 L1274.57,145.07 L1275.75,144.46 L1276.92,143.87 L1278.09,143.30 L1279.27,142.75 L1280.44,142.22 L1281.62,141.70 L1282.79,141.20 L1283.96,140.71 L1285.14,140.24 L1286.31,139.78 L1287.49,139.33 L1288.66,138.89 L1289.83,138.45 L1291.01,138.03 L1292.18,137.61 L1293.36,137.20 L1294.53,136.79 L1295.70,136.38 L1296.88,135.97 L1298.05,135.57 L1299.23,135.17 L1300.40,134.77 L1301.57,134.36 L1302.75,133.95 L1303.92,133.54 L1305.10,133.13 L1306.27,132.70 L1307.44,132.28 L1308.62,131.84 L1309.79,131.40 L1310.97,130.95 L1312.14,130.50 L1313.31,130.03 L1314.49,129.56 L1315.66,129.08 L1316.84,128.58 L1318.01,128.08 L1319.18,127.57 L1320.36,127.05 L1321.53,126.52 L1322.71,125.98 L1323.88,125.44 L1325.05,124.88 L1326.23,124.31 L1327.40,123.74 L1328.58,123.16 L1329.75,122.58 L1330.92,121.98 L1332.10,121.38 L1333.27,120.78 L1334.45,120.17 L1335.62,119.56 L1336.79,118.95 L1337.97,118.33 L1339.14,117.71 L1340.32,117.08 L1341.49,116.45 L1342.66,115.83 L1343.84,115.21 L1345.01,114.59 L1346.19,113.99 L1347.36,113.39 L1348.53,112.80 L1349.71,112.23 L1350.88,111.67 L1352.06,111.13 L1353.23,110.60 L1354.40,110.10 L1355.58,109.63 L1356.75,109.18 L1357.93,108.76 L1359.10,108.37 L1360.27,108.01 L1361.45,107.69 L1362.62,107.41 L1363.80,107.17 L1364.97,106.97 L1366.14,106.82 L1367.32,106.71 L1368.49,106.66 L1369.67,106.65 L1370.84,106.70 L1372.01,106.80 L1373.19,106.96 L1374.36,107.18 L1375.54,107.45 L1376.71,107.79 L1377.88,108.18 L1379.06,108.64 L1380.23,109.16 L1381.41,109.74 L1382.58,110.38 L1383.75,111.09 L1384.93,111.87 L1386.10,112.71 L1387.28,113.61 L1388.45,114.59 L1389.62,115.63 L1390.80,116.74 L1391.97,117.91 L1393.15,119.15 L1394.32,120.46 L1395.49,121.84 L1396.67,123.29 L1397.84,124.80 L1399.02,126.37 L1400.19,128.02 L1401.36,129.72 L1402.54,131.49 L1403.71,133.33 L1404.89,135.22 L1406.06,137.18 L1407.23,139.20 L1408.41,141.29 L1409.58,143.44 L1410.76,145.66 L1411.93,147.94 L1413.10,150.29 L1414.28,152.69 L1415.45,155.16 L1416.63,157.69 L1417.80,160.27 L1418.97,162.91 L1420.15,165.60 L1421.32,168.35 L1422.50,171.15 L1423.67,173.99 L1424.84,176.89 L1426.02,179.83 L1427.19,182.82 L1428.37,185.85 L1429.54,188.92 L1430.71,192.03 L1431.89,195.17 L1433.06,198.35 L1434.24,201.57 L1435.41,204.82 L1436.58,208.09 L1437.76,211.40 L1438.93,214.73 L1440.11,218.08 L1441.28,221.46 L1442.45,224.85 L1443.63,228.27 L1444.80,231.70 L1445.98,235.15 L1447.15,238.61 L1448.32,242.08 L1449.50,245.56 L1450.67,249.06 L1451.85,252.55 L1453.02,256.06 L1454.19,259.56 L1455.37,263.07 L1456.54,266.58 L1457.72,270.09 L1458.89,273.60 L1460.06,277.11 L1461.24,280.61 L1462.41,284.10 L1463.59,287.59 L1464.76,291.07 L1465.93,294.54 L1467.11,298.00 L1468.28,301.44 L1469.46,304.88 L1470.63,308.30 L1471.80,311.71 L1472.98,315.10 L1474.15,318.48 L1475.33,321.84 L1476.50,325.18 L1477.67,328.51 L1478.85,331.81 L1480.02,335.10 L1481.20,338.37 L1482.37,341.61 L1483.54,344.84 L1484.72,348.04 L1485.89,351.22 L1487.07,354.38 L1488.24,357.51 L1489.41,360.62 L1490.59,363.71 L1491.76,366.77 L1492.94,369.81 L1494.11,372.83 L1495.28,375.82 L1496.46,378.78 L1497.63,381.72 L1498.81,384.63 L1499.98,387.52 L1501.15,390.38 L1502.33,393.22 L1503.50,396.03 L1504.68,398.81 L1505.85,401.57 L1507.02,404.30 L1508.20,407.00 L1509.37,409.68 L1510.55,412.33 L1511.72,414.96 L1512.89,417.56 L1514.07,420.13 L1515.24,422.68 L1516.42,425.20 L1517.59,427.69 L1518.76,430.16 L1519.94,432.60 L1521.11,435.02 L1522.29,437.41 L1523.46,439.78 L1524.63,442.12 L1525.81,444.43 L1526.98,446.72 L1528.16,448.98 L1529.33,451.22 L1530.50,453.44 L1531.68,455.63 L1532.85,457.79 L1534.03,459.93 L1535.20,462.05 L1536.37,464.14 L1537.55,466.21 L1538.72,468.26 L1539.90,470.28 L1541.07,472.28 L1542.24,474.26 L1543.42,476.21 L1544.59,478.14 L1545.77,480.05 L1546.94,481.94 L1548.11,483.80 L1549.29,485.65 L1550.46,487.47 L1551.64,489.27 L1552.81,491.05 L1553.98,492.80 L1555.16,494.54 L1556.33,496.26 L1557.51,497.95 L1558.68,499.63 L1559.85,501.29 L1561.03,502.92 L1562.20,504.54 L1563.38,506.14 L1564.55,507.72 L1565.72,509.28 L1566.90,510.82 L1568.07,512.34 L1569.25,513.84 L1570.42,515.33 L1571.59,516.80 L1572.77,518.25 L1573.94,519.68 L1575.12,521.10 L1576.29,522.50 L1577.46,523.88 L1578.64,525.25 L1579.81,526.60 L1580.99,527.93 L1582.16,529.25 L1583.33,530.55 L1584.51,531.84 L1585.68,533.11 L1586.86,534.36 L1588.03,535.60 L1589.20,536.83 L1590.38,538.04 L1591.55,539.24 L1592.73,540.42 L1593.90,541.59 L1595.07,542.74 L1596.25,543.88 L1597.42,545.01 L1598.60,546.12 L1599.77,547.22 L1600.94,548.31 L1602.12,549.38 L1603.29,550.44 L1604.47,551.49 L1605.64,552.52 L1606.81,553.55 L1607.99,554.56 L1609.16,555.56 L1610.34,556.55 L1611.51,557.52 L1612.68,558.49 L1613.86,559.44 L1615.03,560.38 L1616.21,561.31 L1617.38,562.23 L1618.55,563.14 L1619.73,564.04 L1620.90,564.93 L1622.08,565.81 L1623.25,566.67 L1624.42,567.53 L1625.60,568.38 L1626.77,569.22 L1627.95,570.05 L1629.12,570.86 L1630.29,571.67 L1631.47,572.47 L1632.64,573.27 L1633.82,574.05 L1634.99,574.82 L1636.16,575.58 L1637.34,576.34 L1638.51,577.09 L1639.69,577.83 L1640.86,578.56 L1642.03,579.28 L1643.21,579.99 L1644.38,580.70 L1645.56,581.40 L1646.73,582.09 L1647.90,582.77 L1649.08,583.45 L1650.25,584.11 L1651.43,584.77 L1652.60,585.43 L1653.77,586.07 L1654.95,586.71 L1656.12,587.35 L1657.30,587.97 L1658.47,588.59 L1659.64,589.20 L1660.82,589.81 L1661.99,590.41 L1663.17,591.00 L1664.34,591.58 L1665.51,592.16 L1666.69,592.74 L1667.86,593.31 L1669.04,593.87 L1670.21,594.42 L1671.38,594.97 L1672.56,595.52 L1673.73,596.06 L1674.91,596.59 L1676.08,597.12 L1677.25,597.64 L1678.43,598.16 L1679.60,598.67 L1680.78,599.18 L1681.95,599.68 L1683.12,600.17 L1684.30,600.66 L1685.47,601.15 L1686.65,601.63 L1687.82,602.11 L1688.99,602.58 L1690.17,603.05 L1691.34,603.51 L1692.52,603.97 L1693.69,604.42 L1694.86,604.87 L1696.04,605.32 L1697.21,605.76 L1698.39,606.19 L1699.56,606.62 L1700.73,607.05 L1701.91,607.48 L1703.08,607.90 L1704.26,608.31 L1705.43,608.72 L1706.60,609.13 L1707.78,609.53 L1708.95,609.93 L1710.13,610.33 L1711.30,610.72 L1712.47,611.11 L1713.65,611.50 L1714.82,611.88 L1716.00,612.26 L1717.17,612.63 L1718.34,613.01 L1719.52,613.37 L1720.69,613.74 L1721.87,614.10 L1723.04,614.46 L1724.21,614.81 L1725.39,615.16 L1726.56,615.51 L1727.74,615.86 L1728.91,616.20 L1730.08,616.54 L1731.26,616.88 L1732.43,617.21 L1733.61,617.54 L1734.78,617.87 L1735.95,618.19 L1737.13,618.52 L1738.30,618.84 L1739.48,619.15 L1740.65,619.47 L1741.82,619.78 L1743.00,620.08 L1744.17,620.39 L1745.35,620.69 L1746.52,620.99 L1747.69,621.29 L1748.87,621.59 L1750.04,621.88 L1751.22,622.17 L1752.39,622.46 L1753.56,622.75 L1754.74,623.03 L1755.91,623.31 L1757.09,623.59 L1758.26,623.87 L1759.43,624.14 L1760.61,624.41 L1761.78,624.68 L1762.96,624.95 L1764.13,625.22 L1765.30,625.48 L1766.48,625.74 L1767.65,626.00 L1768.83,626.26 L1770.00,626.51" stroke="#4472c4" stroke-width="9.8"/>
</g>
<g fill="none" stroke-linecap="round">
<path d="M887.50,28.70H994.00" stroke="#000" stroke-width="6.9" stroke-dasharray="0 12.5"/>
<path d="M887.45,75.30H993.55" stroke="#000" stroke-width="6.9" stroke-dasharray="43.58 25.17"/>
<path d="M885.90,121.80H994.95" stroke="#4472c4" stroke-width="10.0"/>
</g>
<text class="lg" x="1008.90" y="38.80">NASH</text>
<text class="lg" x="1008.90" y="84.80">Glassy</text>
<text class="lg" x="1008.90" y="130.60">Total Amorphous</text>
<text class="tk" x="948.20" y="731.50">10</text>
<text class="tk" x="1065.60" y="731.50">15</text>
<text class="tk" x="1183.00" y="731.50">20</text>
<text class="tk" x="1300.40" y="731.50">25</text>
<text class="tk" x="1417.80" y="731.50">30</text>
<text class="tk" x="1535.20" y="731.50">35</text>
<text class="tk" x="1652.60" y="731.50">40</text>
<text class="tk" x="1770.00" y="731.50">45</text>
<text class="ti" x="1288.60" y="790.20">2θ <tspan x="1428.80" text-anchor="end">(deg)</tspan></text>
<text class="cp" x="1314.70" y="878.80">(b)</text>
</g>
</svg>
</body>
</html>
